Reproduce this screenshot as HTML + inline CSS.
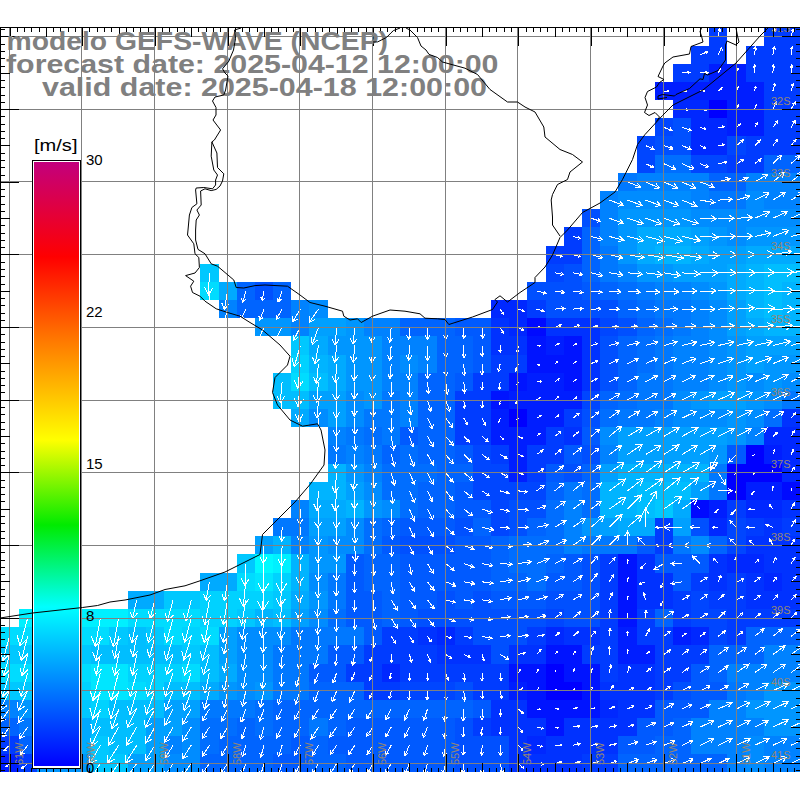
<!DOCTYPE html><html><head><meta charset="utf-8"><style>html,body{margin:0;padding:0;background:#fff;width:800px;height:800px;overflow:hidden}svg{display:block;position:absolute;left:0;top:0}.t{font-family:"Liberation Sans",sans-serif}</style></head><body>
<svg width="800" height="800" viewBox="0 0 800 800">
<rect width="800" height="800" fill="#fff"/>
<g shape-rendering="crispEdges">
<path fill="rgb(0,0,255)" d="M709 100h18v18h-18zM509 409h18v18h-18zM746 445h18v19h-18zM727 464h19v18h-19zM746 464h18v18h-18zM764 464h18v18h-18zM727 482h19v18h-19zM546 664h18v18h-18zM546 682h18v18h-18zM564 682h18v18h-18z"/>
<path fill="rgb(0,10,255)" d="M527 318h19v18h-19zM782 482h18v18h-18zM691 500h18v18h-18z"/>
<path fill="rgb(0,20,255)" d="M527 336h19v19h-19zM564 336h18v19h-18zM527 355h19v18h-19zM546 355h18v18h-18zM564 355h18v18h-18zM509 373h18v18h-18zM564 373h18v18h-18zM491 391h18v18h-18zM618 554h19v19h-19zM618 573h19v18h-19zM618 591h19v18h-19zM618 609h19v18h-19zM546 645h18v19h-18zM564 645h18v19h-18zM509 664h18v18h-18zM527 664h19v18h-19zM564 664h18v18h-18zM582 664h18v18h-18zM527 682h19v18h-19zM582 682h18v18h-18zM527 700h19v18h-19zM546 700h18v18h-18zM564 700h18v18h-18zM582 700h18v18h-18zM546 718h18v18h-18z"/>
<path fill="rgb(0,30,255)" d="M709 64h18v18h-18zM727 64h19v18h-19zM655 82h18v18h-18zM673 82h18v18h-18zM691 82h18v18h-18zM709 82h18v18h-18zM727 82h19v18h-19zM746 82h18v18h-18zM727 100h19v18h-19zM746 100h18v18h-18zM727 118h19v18h-19zM746 118h18v18h-18zM546 336h18v19h-18zM527 373h19v18h-19zM546 373h18v18h-18zM509 391h18v18h-18zM527 391h19v18h-19zM546 391h18v18h-18zM564 391h18v18h-18zM491 409h18v18h-18zM527 409h19v18h-19zM546 409h18v18h-18zM491 427h18v18h-18zM509 427h18v18h-18zM527 427h19v18h-19zM509 445h18v19h-18zM764 445h18v19h-18zM509 464h18v18h-18zM746 482h18v18h-18zM764 482h18v18h-18zM709 500h18v18h-18zM618 627h19v18h-19zM673 627h18v18h-18zM618 645h19v19h-19zM637 645h18v19h-18zM509 682h18v18h-18zM0 754h19v18h-19z"/>
<path fill="rgb(0,40,255)" d="M673 100h18v18h-18zM691 100h18v18h-18zM691 118h18v18h-18zM709 118h18v18h-18zM691 136h18v19h-18zM709 136h18v19h-18zM491 300h18v18h-18zM509 300h18v18h-18zM509 318h18v18h-18zM764 427h18v18h-18zM782 427h18v18h-18zM782 445h18v19h-18zM782 464h18v18h-18zM746 500h18v18h-18zM764 500h18v18h-18zM709 518h18v18h-18zM727 554h19v19h-19zM746 554h18v19h-18zM764 573h18v18h-18zM437 627h18v18h-18zM546 627h18v18h-18zM691 627h18v18h-18zM382 664h18v18h-18zM600 700h18v18h-18zM527 736h19v18h-19z"/>
<path fill="rgb(0,50,255)" d="M491 318h18v18h-18zM546 318h18v18h-18zM564 318h18v18h-18zM582 318h18v18h-18zM491 336h18v19h-18zM509 336h18v19h-18zM582 336h18v19h-18zM582 355h18v18h-18zM582 373h18v18h-18zM782 409h18v18h-18zM564 427h18v18h-18zM782 500h18v18h-18zM764 518h18v18h-18zM746 536h18v18h-18zM764 536h18v18h-18zM782 536h18v18h-18zM637 554h18v19h-18zM709 554h18v19h-18zM764 554h18v19h-18zM782 554h18v19h-18zM637 573h18v18h-18zM655 573h18v18h-18zM709 573h18v18h-18zM746 573h18v18h-18zM782 573h18v18h-18zM637 591h18v18h-18zM655 591h18v18h-18zM746 591h18v18h-18zM764 591h18v18h-18zM782 591h18v18h-18zM418 627h19v18h-19zM564 627h18v18h-18zM582 627h18v18h-18zM437 645h18v19h-18zM455 645h18v19h-18zM473 645h18v19h-18zM509 645h18v19h-18zM527 645h19v19h-19zM618 664h19v18h-19zM637 664h18v18h-18zM600 682h18v18h-18zM618 682h19v18h-19zM637 682h18v18h-18zM491 700h18v18h-18zM509 700h18v18h-18zM618 700h19v18h-19zM637 700h18v18h-18zM491 718h18v18h-18zM509 718h18v18h-18zM527 718h19v18h-19zM564 718h18v18h-18zM582 718h18v18h-18zM600 718h18v18h-18zM618 718h19v18h-19zM509 736h18v18h-18zM546 736h18v18h-18zM564 736h18v18h-18zM582 736h18v18h-18zM600 736h18v18h-18zM509 754h18v18h-18zM527 754h19v18h-19zM546 754h18v18h-18zM564 754h18v18h-18z"/>
<path fill="rgb(0,60,255)" d="M709 27h18v19h-18zM764 27h18v19h-18zM782 27h18v19h-18zM691 46h18v18h-18zM709 46h18v18h-18zM746 46h18v18h-18zM764 46h18v18h-18zM782 46h18v18h-18zM673 64h18v18h-18zM691 64h18v18h-18zM746 64h18v18h-18zM764 64h18v18h-18zM782 64h18v18h-18zM764 82h18v18h-18zM782 82h18v18h-18zM764 100h18v18h-18zM782 100h18v18h-18zM764 118h18v18h-18zM782 118h18v18h-18zM746 136h18v19h-18zM764 136h18v19h-18zM782 136h18v19h-18zM727 155h19v18h-19zM746 155h18v18h-18zM564 227h18v19h-18zM546 246h18v18h-18zM564 246h18v18h-18zM527 300h19v18h-19zM491 355h18v18h-18zM509 355h18v18h-18zM473 373h18v18h-18zM491 373h18v18h-18zM455 391h18v18h-18zM473 391h18v18h-18zM455 409h18v18h-18zM473 409h18v18h-18zM564 409h18v18h-18zM455 427h18v18h-18zM473 427h18v18h-18zM546 427h18v18h-18zM491 445h18v19h-18zM527 445h19v19h-19zM546 445h18v19h-18zM527 464h19v18h-19zM727 500h19v18h-19zM655 518h18v18h-18zM746 518h18v18h-18zM782 518h18v18h-18zM655 536h18v18h-18zM600 554h18v19h-18zM600 573h18v18h-18zM691 573h18v18h-18zM727 573h19v18h-19zM600 591h18v18h-18zM673 591h18v18h-18zM709 591h18v18h-18zM727 591h19v18h-19zM600 609h18v18h-18zM637 609h18v18h-18zM673 609h18v18h-18zM727 609h19v18h-19zM746 609h18v18h-18zM764 609h18v18h-18zM782 609h18v18h-18zM382 627h18v18h-18zM400 627h18v18h-18zM455 627h18v18h-18zM527 627h19v18h-19zM600 627h18v18h-18zM637 627h18v18h-18zM655 627h18v18h-18zM727 627h19v18h-19zM364 645h18v19h-18zM382 645h18v19h-18zM400 645h18v19h-18zM418 645h19v19h-19zM582 645h18v19h-18zM600 645h18v19h-18zM655 645h18v19h-18zM673 645h18v19h-18zM691 645h18v19h-18zM346 664h18v18h-18zM364 664h18v18h-18zM400 664h18v18h-18zM418 664h19v18h-19zM437 664h18v18h-18zM455 664h18v18h-18zM473 664h18v18h-18zM491 664h18v18h-18zM600 664h18v18h-18zM655 664h18v18h-18zM673 664h18v18h-18zM364 682h18v18h-18zM382 682h18v18h-18zM473 682h18v18h-18zM491 682h18v18h-18zM655 682h18v18h-18zM473 718h18v18h-18zM0 736h19v18h-19zM19 754h18v18h-18zM582 754h18v18h-18zM600 754h18v18h-18z"/>
<path fill="rgb(0,70,255)" d="M655 118h18v18h-18zM637 136h18v19h-18zM727 136h19v19h-19zM637 155h18v18h-18zM691 155h18v18h-18zM709 155h18v18h-18zM546 264h18v18h-18zM600 318h18v18h-18zM582 391h18v18h-18zM473 445h18v19h-18zM473 464h18v18h-18zM491 464h18v18h-18zM473 482h18v18h-18zM491 482h18v18h-18zM509 482h18v18h-18zM527 482h19v18h-19zM491 500h18v18h-18zM491 518h18v18h-18zM727 518h19v18h-19zM727 536h19v18h-19zM691 591h18v18h-18zM546 609h18v18h-18zM691 609h18v18h-18zM709 609h18v18h-18zM709 627h18v18h-18zM400 682h18v18h-18zM418 682h19v18h-19zM437 682h18v18h-18z"/>
<path fill="rgb(0,80,255)" d="M673 118h18v18h-18zM655 136h18v19h-18zM673 136h18v19h-18zM582 209h18v18h-18zM564 264h18v18h-18zM255 282h18v18h-18zM527 282h19v18h-19zM546 282h18v18h-18zM564 282h18v18h-18zM546 300h18v18h-18zM564 300h18v18h-18zM582 300h18v18h-18zM600 300h18v18h-18zM618 318h19v18h-19zM600 336h18v19h-18zM600 355h18v18h-18zM600 373h18v18h-18zM582 409h18v18h-18zM582 445h18v19h-18zM564 464h18v18h-18zM509 500h18v18h-18zM527 500h19v18h-19zM455 518h18v18h-18zM509 518h18v18h-18zM691 518h18v18h-18zM400 536h18v18h-18zM418 536h19v18h-19zM437 536h18v18h-18zM582 554h18v19h-18zM582 573h18v18h-18zM437 591h18v18h-18zM473 591h18v18h-18zM546 591h18v18h-18zM564 591h18v18h-18zM582 591h18v18h-18zM418 609h19v18h-19zM437 609h18v18h-18zM455 609h18v18h-18zM473 609h18v18h-18zM491 609h18v18h-18zM509 609h18v18h-18zM527 609h19v18h-19zM564 609h18v18h-18zM582 609h18v18h-18zM473 627h18v18h-18zM491 627h18v18h-18zM509 627h18v18h-18zM491 645h18v19h-18zM455 682h18v18h-18zM673 682h18v18h-18zM455 718h18v18h-18zM455 736h18v18h-18zM473 736h18v18h-18zM491 736h18v18h-18zM455 754h18v18h-18zM473 754h18v18h-18zM491 754h18v18h-18z"/>
<path fill="rgb(0,90,255)" d="M582 282h18v18h-18zM455 318h18v18h-18zM473 318h18v18h-18zM473 336h18v19h-18zM473 355h18v18h-18zM455 373h18v18h-18zM400 427h18v18h-18zM582 427h18v18h-18zM455 445h18v19h-18zM564 445h18v19h-18zM727 445h19v19h-19zM546 464h18v18h-18zM455 482h18v18h-18zM455 500h18v18h-18zM473 500h18v18h-18zM400 518h18v18h-18zM418 518h19v18h-19zM437 518h18v18h-18zM382 536h18v18h-18zM455 536h18v18h-18zM473 536h18v18h-18zM637 536h18v18h-18zM346 554h18v19h-18zM400 554h18v19h-18zM418 554h19v19h-19zM437 554h18v19h-18zM455 554h18v19h-18zM473 554h18v19h-18zM564 554h18v19h-18zM655 554h18v19h-18zM673 554h18v19h-18zM691 554h18v19h-18zM346 573h18v18h-18zM400 573h18v18h-18zM418 573h19v18h-19zM437 573h18v18h-18zM455 573h18v18h-18zM473 573h18v18h-18zM546 573h18v18h-18zM564 573h18v18h-18zM673 573h18v18h-18zM346 591h18v18h-18zM364 591h18v18h-18zM400 591h18v18h-18zM418 591h19v18h-19zM455 591h18v18h-18zM491 591h18v18h-18zM509 591h18v18h-18zM527 591h19v18h-19zM346 609h18v18h-18zM364 609h18v18h-18zM400 609h18v18h-18zM364 627h18v18h-18zM328 645h18v19h-18zM346 645h18v19h-18zM309 664h19v18h-19zM328 664h18v18h-18zM691 664h18v18h-18zM691 682h18v18h-18zM709 682h18v18h-18zM473 700h18v18h-18zM655 700h18v18h-18zM673 700h18v18h-18zM691 700h18v18h-18zM346 718h18v18h-18zM364 718h18v18h-18zM382 718h18v18h-18zM400 718h18v18h-18zM418 718h19v18h-19zM437 718h18v18h-18zM637 718h18v18h-18zM655 718h18v18h-18zM291 736h18v18h-18zM328 736h18v18h-18zM346 736h18v18h-18zM364 736h18v18h-18zM382 736h18v18h-18zM400 736h18v18h-18zM418 736h19v18h-19zM437 736h18v18h-18zM618 736h19v18h-19zM637 736h18v18h-18zM273 754h18v18h-18zM291 754h18v18h-18zM346 754h18v18h-18zM364 754h18v18h-18zM382 754h18v18h-18zM400 754h18v18h-18zM418 754h19v18h-19zM437 754h18v18h-18z"/>
<path fill="rgb(0,100,255)" d="M764 155h18v18h-18zM782 155h18v18h-18zM709 173h18v18h-18zM727 173h19v18h-19zM582 227h18v19h-18zM582 246h18v18h-18zM582 264h18v18h-18zM237 282h18v18h-18zM273 282h18v18h-18zM600 282h18v18h-18zM237 300h18v18h-18zM255 300h18v18h-18zM273 300h18v18h-18zM618 300h19v18h-19zM400 318h18v18h-18zM418 318h19v18h-19zM437 318h18v18h-18zM637 318h18v18h-18zM437 336h18v19h-18zM455 336h18v19h-18zM618 336h19v19h-19zM437 355h18v18h-18zM455 355h18v18h-18zM618 355h19v18h-19zM418 373h19v18h-19zM437 373h18v18h-18zM618 373h19v18h-19zM418 391h19v18h-19zM437 391h18v18h-18zM600 391h18v18h-18zM418 409h19v18h-19zM437 409h18v18h-18zM418 427h19v18h-19zM437 427h18v18h-18zM382 445h18v19h-18zM418 445h19v19h-19zM437 445h18v19h-18zM437 464h18v18h-18zM455 464h18v18h-18zM582 464h18v18h-18zM418 482h19v18h-19zM437 482h18v18h-18zM546 482h18v18h-18zM418 500h19v18h-19zM437 500h18v18h-18zM382 518h18v18h-18zM473 518h18v18h-18zM527 518h19v18h-19zM491 536h18v18h-18zM709 536h18v18h-18zM364 554h18v19h-18zM382 554h18v19h-18zM491 554h18v19h-18zM546 554h18v19h-18zM364 573h18v18h-18zM382 573h18v18h-18zM491 573h18v18h-18zM509 573h18v18h-18zM382 591h18v18h-18zM382 609h18v18h-18zM655 609h18v18h-18zM746 627h18v18h-18zM764 627h18v18h-18zM782 627h18v18h-18zM709 645h18v19h-18zM727 645h19v19h-19zM746 645h18v19h-18zM709 664h18v18h-18zM309 682h19v18h-19zM328 682h18v18h-18zM346 682h18v18h-18zM273 700h18v18h-18zM291 700h18v18h-18zM309 700h19v18h-19zM328 700h18v18h-18zM346 700h18v18h-18zM364 700h18v18h-18zM382 700h18v18h-18zM400 700h18v18h-18zM418 700h19v18h-19zM437 700h18v18h-18zM455 700h18v18h-18zM0 718h19v18h-19zM237 718h18v18h-18zM273 718h18v18h-18zM291 718h18v18h-18zM328 718h18v18h-18zM673 718h18v18h-18zM19 736h18v18h-18zM219 736h18v18h-18zM237 736h18v18h-18zM255 736h18v18h-18zM273 736h18v18h-18zM309 736h19v18h-19zM655 736h18v18h-18zM673 736h18v18h-18zM200 754h19v18h-19zM219 754h18v18h-18zM237 754h18v18h-18zM255 754h18v18h-18zM309 754h19v18h-19zM328 754h18v18h-18zM618 754h19v18h-19zM637 754h18v18h-18zM655 754h18v18h-18zM673 754h18v18h-18zM691 754h18v18h-18zM709 754h18v18h-18z"/>
<path fill="rgb(0,110,255)" d="M655 155h18v18h-18zM673 155h18v18h-18zM618 282h19v18h-19zM637 300h18v18h-18zM655 318h18v18h-18zM637 336h18v19h-18zM637 355h18v18h-18zM618 391h19v18h-19zM600 409h18v18h-18zM764 409h18v18h-18zM364 427h18v18h-18zM400 445h18v19h-18zM382 464h18v18h-18zM400 464h18v18h-18zM418 464h19v18h-19zM382 482h18v18h-18zM400 482h18v18h-18zM582 482h18v18h-18zM400 500h18v18h-18zM546 500h18v18h-18zM582 500h18v18h-18zM364 518h18v18h-18zM546 518h18v18h-18zM364 536h18v18h-18zM509 536h18v18h-18zM527 536h19v18h-19zM546 536h18v18h-18zM509 554h18v19h-18zM527 554h19v19h-19zM527 573h19v18h-19zM328 609h18v18h-18zM255 700h18v18h-18zM200 718h19v18h-19zM219 718h18v18h-18zM255 718h18v18h-18zM200 736h19v18h-19z"/>
<path fill="rgb(0,120,255)" d="M618 173h19v18h-19zM709 191h18v18h-18zM727 191h19v18h-19zM600 246h18v18h-18zM600 264h18v18h-18zM637 282h18v18h-18zM655 300h18v18h-18zM673 300h18v18h-18zM673 318h18v18h-18zM655 336h18v19h-18zM655 355h18v18h-18zM637 373h18v18h-18zM655 373h18v18h-18zM382 391h18v18h-18zM637 391h18v18h-18zM655 391h18v18h-18zM782 391h18v18h-18zM364 409h18v18h-18zM382 409h18v18h-18zM618 409h19v18h-19zM637 409h18v18h-18zM346 427h18v18h-18zM382 427h18v18h-18zM328 445h18v19h-18zM364 445h18v19h-18zM709 464h18v18h-18zM564 482h18v18h-18zM709 482h18v18h-18zM273 518h18v18h-18zM291 518h18v18h-18zM582 536h18v18h-18zM600 536h18v18h-18zM618 536h19v18h-19zM673 536h18v18h-18zM328 573h18v18h-18zM328 591h18v18h-18zM291 627h18v18h-18zM309 627h19v18h-19zM328 627h18v18h-18zM346 627h18v18h-18zM273 645h18v19h-18zM291 645h18v19h-18zM309 645h19v19h-19zM273 664h18v18h-18zM291 664h18v18h-18zM273 682h18v18h-18zM291 682h18v18h-18zM727 682h19v18h-19zM200 700h19v18h-19zM219 700h18v18h-18zM237 700h18v18h-18zM19 718h18v18h-18zM309 718h19v18h-19z"/>
<path fill="rgb(0,130,255)" d="M637 173h18v18h-18zM655 173h18v18h-18zM673 173h18v18h-18zM691 173h18v18h-18zM746 173h18v18h-18zM764 173h18v18h-18zM782 173h18v18h-18zM600 191h18v18h-18zM691 191h18v18h-18zM764 191h18v18h-18zM782 191h18v18h-18zM600 209h18v18h-18zM600 227h18v19h-18zM618 264h19v18h-19zM655 282h18v18h-18zM673 282h18v18h-18zM219 300h18v18h-18zM291 300h18v18h-18zM691 300h18v18h-18zM291 318h18v18h-18zM364 318h18v18h-18zM382 318h18v18h-18zM691 318h18v18h-18zM382 336h18v19h-18zM400 336h18v19h-18zM418 336h19v19h-19zM673 336h18v19h-18zM691 336h18v19h-18zM382 355h18v18h-18zM418 355h19v18h-19zM673 355h18v18h-18zM691 355h18v18h-18zM382 373h18v18h-18zM400 373h18v18h-18zM673 373h18v18h-18zM691 373h18v18h-18zM400 391h18v18h-18zM400 409h18v18h-18zM655 409h18v18h-18zM328 427h18v18h-18zM746 427h18v18h-18zM346 445h18v19h-18zM600 445h18v19h-18zM364 464h18v18h-18zM291 500h18v18h-18zM564 500h18v18h-18zM564 518h18v18h-18zM291 536h18v18h-18zM564 536h18v18h-18zM764 645h18v19h-18zM782 645h18v19h-18zM727 664h19v18h-19zM746 664h18v18h-18zM764 664h18v18h-18zM782 664h18v18h-18zM746 682h18v18h-18zM0 700h19v18h-19zM709 700h18v18h-18zM727 700h19v18h-19zM691 718h18v18h-18zM709 718h18v18h-18zM727 718h19v18h-19zM746 718h18v18h-18zM164 736h18v18h-18zM691 736h18v18h-18zM709 736h18v18h-18zM727 736h19v18h-19zM764 736h18v18h-18zM782 736h18v18h-18zM727 754h19v18h-19zM764 754h18v18h-18zM782 754h18v18h-18z"/>
<path fill="rgb(0,140,255)" d="M618 191h19v18h-19zM637 191h18v18h-18zM655 191h18v18h-18zM673 191h18v18h-18zM746 191h18v18h-18zM691 209h18v18h-18zM709 209h18v18h-18zM727 209h19v18h-19zM746 209h18v18h-18zM764 209h18v18h-18zM782 209h18v18h-18zM727 227h19v19h-19zM691 282h18v18h-18zM309 300h19v18h-19zM709 300h18v18h-18zM709 318h18v18h-18zM709 336h18v19h-18zM400 355h18v18h-18zM709 355h18v18h-18zM709 373h18v18h-18zM746 373h18v18h-18zM782 373h18v18h-18zM346 391h18v18h-18zM673 391h18v18h-18zM764 391h18v18h-18zM309 409h19v18h-19zM346 409h18v18h-18zM673 409h18v18h-18zM691 409h18v18h-18zM709 409h18v18h-18zM746 409h18v18h-18zM600 427h18v18h-18zM364 482h18v18h-18zM382 500h18v18h-18zM346 518h18v18h-18zM328 536h18v18h-18zM346 536h18v18h-18zM691 536h18v18h-18zM309 573h19v18h-19zM309 609h19v18h-19zM237 627h18v18h-18zM255 627h18v18h-18zM273 627h18v18h-18zM237 645h18v19h-18zM255 645h18v19h-18zM237 664h18v18h-18zM255 664h18v18h-18zM237 682h18v18h-18zM182 718h18v18h-18zM182 736h18v18h-18zM746 736h18v18h-18zM164 754h18v18h-18zM182 754h18v18h-18zM746 754h18v18h-18z"/>
<path fill="rgb(0,150,255)" d="M618 209h19v18h-19zM637 209h18v18h-18zM655 209h18v18h-18zM673 209h18v18h-18zM618 227h19v19h-19zM709 227h18v19h-18zM746 227h18v19h-18zM764 227h18v19h-18zM782 227h18v19h-18zM618 246h19v18h-19zM637 264h18v18h-18zM655 264h18v18h-18zM709 282h18v18h-18zM255 318h18v18h-18zM273 318h18v18h-18zM346 318h18v18h-18zM328 336h18v19h-18zM346 336h18v19h-18zM364 336h18v19h-18zM727 336h19v19h-19zM346 355h18v18h-18zM364 355h18v18h-18zM727 355h19v18h-19zM764 355h18v18h-18zM782 355h18v18h-18zM346 373h18v18h-18zM364 373h18v18h-18zM727 373h19v18h-19zM764 373h18v18h-18zM364 391h18v18h-18zM691 391h18v18h-18zM746 391h18v18h-18zM727 409h19v18h-19zM727 427h19v18h-19zM709 445h18v19h-18zM346 464h18v18h-18zM364 500h18v18h-18zM582 518h18v18h-18zM309 536h19v18h-19zM309 554h19v19h-19zM328 554h18v19h-18zM309 591h19v18h-19zM219 682h18v18h-18zM255 682h18v18h-18zM764 682h18v18h-18zM782 682h18v18h-18zM19 700h18v18h-18zM746 700h18v18h-18zM764 700h18v18h-18zM782 700h18v18h-18zM764 718h18v18h-18zM782 718h18v18h-18zM37 754h18v18h-18zM55 754h18v18h-18zM73 754h18v18h-18z"/>
<path fill="rgb(0,160,255)" d="M691 227h18v19h-18zM709 246h18v18h-18zM727 246h19v18h-19zM673 264h18v18h-18zM691 264h18v18h-18zM709 264h18v18h-18zM727 300h19v18h-19zM309 318h19v18h-19zM328 318h18v18h-18zM727 318h19v18h-19zM746 336h18v19h-18zM764 336h18v19h-18zM782 336h18v19h-18zM746 355h18v18h-18zM309 391h19v18h-19zM328 391h18v18h-18zM709 391h18v18h-18zM727 391h19v18h-19zM328 409h18v18h-18zM618 427h19v18h-19zM637 427h18v18h-18zM655 427h18v18h-18zM673 427h18v18h-18zM691 427h18v18h-18zM709 427h18v18h-18zM618 445h19v19h-19zM637 445h18v19h-18zM655 445h18v19h-18zM673 445h18v19h-18zM691 445h18v19h-18zM600 464h18v18h-18zM346 482h18v18h-18zM691 482h18v18h-18zM309 518h19v18h-19zM328 518h18v18h-18zM600 518h18v18h-18zM673 518h18v18h-18zM255 536h18v18h-18zM291 609h18v18h-18zM219 627h18v18h-18zM219 645h18v19h-18zM164 700h18v18h-18zM182 700h18v18h-18zM146 718h18v18h-18zM164 718h18v18h-18zM146 736h18v18h-18zM128 754h18v18h-18zM146 754h18v18h-18z"/>
<path fill="rgb(0,170,255)" d="M637 227h18v19h-18zM655 227h18v19h-18zM673 227h18v19h-18zM637 246h18v18h-18zM691 246h18v18h-18zM746 246h18v18h-18zM764 246h18v18h-18zM782 246h18v18h-18zM727 264h19v18h-19zM219 282h18v18h-18zM727 282h19v18h-19zM746 318h18v18h-18zM309 336h19v19h-19zM328 355h18v18h-18zM328 373h18v18h-18zM291 409h18v18h-18zM309 500h19v18h-19zM328 500h18v18h-18zM673 500h18v18h-18zM618 518h19v18h-19zM637 518h18v18h-18zM200 573h19v18h-19zM219 573h18v18h-18zM128 591h18v18h-18zM146 591h18v18h-18zM291 591h18v18h-18zM219 664h18v18h-18zM200 682h19v18h-19zM37 718h18v18h-18zM55 718h18v18h-18zM73 718h18v18h-18zM37 736h18v18h-18zM55 736h18v18h-18zM73 736h18v18h-18z"/>
<path fill="rgb(0,180,255)" d="M655 246h18v18h-18zM673 246h18v18h-18zM746 264h18v18h-18zM746 282h18v18h-18zM782 282h18v18h-18zM746 300h18v18h-18zM782 300h18v18h-18zM764 318h18v18h-18zM782 318h18v18h-18zM309 355h19v18h-19zM328 464h18v18h-18zM618 464h19v18h-19zM637 464h18v18h-18zM655 464h18v18h-18zM673 464h18v18h-18zM691 464h18v18h-18zM309 482h19v18h-19zM328 482h18v18h-18zM600 482h18v18h-18zM618 482h19v18h-19zM346 500h18v18h-18zM600 500h18v18h-18zM618 500h19v18h-19zM273 536h18v18h-18zM291 554h18v19h-18zM291 573h18v18h-18zM255 609h18v18h-18z"/>
<path fill="rgb(0,190,255)" d="M764 264h18v18h-18zM782 264h18v18h-18zM764 282h18v18h-18zM764 300h18v18h-18zM273 373h18v18h-18zM309 373h19v18h-19zM273 391h18v18h-18zM291 391h18v18h-18zM637 482h18v18h-18zM655 482h18v18h-18zM673 482h18v18h-18zM637 500h18v18h-18zM273 609h18v18h-18zM128 627h18v18h-18zM91 645h18v19h-18zM109 645h19v19h-19zM128 645h18v19h-18zM146 645h18v19h-18zM164 645h18v19h-18zM200 645h19v19h-19zM200 664h19v18h-19zM164 682h18v18h-18zM182 682h18v18h-18zM109 700h19v18h-19zM128 700h18v18h-18zM146 700h18v18h-18zM91 718h18v18h-18zM109 718h19v18h-19zM128 718h18v18h-18zM109 736h19v18h-19zM128 736h18v18h-18z"/>
<path fill="rgb(0,200,255)" d="M200 264h19v18h-19zM291 336h18v19h-18zM655 500h18v18h-18zM237 554h18v19h-18zM164 591h18v18h-18zM182 591h18v18h-18zM273 591h18v18h-18zM237 609h18v18h-18zM109 627h19v18h-19zM146 627h18v18h-18zM0 645h19v19h-19zM19 645h18v19h-18zM37 645h18v19h-18zM55 645h18v19h-18zM73 645h18v19h-18zM182 645h18v19h-18zM0 682h19v18h-19zM19 682h18v18h-18zM37 700h18v18h-18zM55 700h18v18h-18zM73 700h18v18h-18zM91 736h18v18h-18zM91 754h18v18h-18zM109 754h19v18h-19z"/>
<path fill="rgb(0,210,255)" d="M291 355h18v18h-18zM273 573h18v18h-18zM200 591h19v18h-19zM219 591h18v18h-18zM237 591h18v18h-18zM255 591h18v18h-18zM200 609h19v18h-19zM219 609h18v18h-18zM182 627h18v18h-18zM128 664h18v18h-18zM146 664h18v18h-18zM164 664h18v18h-18zM73 682h18v18h-18zM146 682h18v18h-18zM91 700h18v18h-18z"/>
<path fill="rgb(0,220,255)" d="M200 282h19v18h-19zM291 373h18v18h-18zM237 573h18v18h-18zM128 609h18v18h-18zM146 609h18v18h-18zM164 609h18v18h-18zM182 609h18v18h-18zM0 627h19v18h-19zM19 627h18v18h-18zM37 627h18v18h-18zM55 627h18v18h-18zM73 627h18v18h-18zM91 627h18v18h-18zM164 627h18v18h-18zM200 627h19v18h-19zM0 664h19v18h-19zM19 664h18v18h-18zM37 664h18v18h-18zM55 664h18v18h-18zM73 664h18v18h-18zM182 664h18v18h-18zM37 682h18v18h-18zM55 682h18v18h-18zM128 682h18v18h-18z"/>
<path fill="rgb(0,230,255)" d="M255 573h18v18h-18zM91 664h18v18h-18zM109 664h19v18h-19zM91 682h18v18h-18zM109 682h19v18h-19z"/>
<path fill="rgb(0,240,255)" d="M273 554h18v19h-18zM19 609h18v18h-18zM37 609h18v18h-18zM55 609h18v18h-18zM73 609h18v18h-18zM91 609h18v18h-18zM109 609h19v18h-19z"/>
<path fill="rgb(0,250,255)" d="M255 554h18v19h-18z"/>
</g>
<path fill="none" stroke="#fff" stroke-width="1" shape-rendering="crispEdges" d="M718.3 36.5L719.7 28.6M720.8 31.5L719.7 28.6L717.8 31.0M772.9 36.5L774.9 28.8M775.7 31.7L774.9 28.8L772.8 30.9M791.0 36.5L793.0 28.8M793.8 31.7L793.0 28.8L790.9 30.9M700.1 54.7L707.6 51.8M705.7 54.1L707.6 51.8L704.6 51.3M718.3 54.7L721.9 47.5M722.1 50.6L721.9 47.5L719.4 49.2M754.7 54.7L755.4 46.7M756.7 49.5L755.4 46.7L753.6 49.2M772.9 54.7L774.4 46.8M775.4 49.7L774.4 46.8L772.4 49.1M791.0 54.7L792.1 46.7M793.2 49.5L792.1 46.7L790.2 49.2M682.0 72.8L690.0 72.6M687.4 74.2L690.0 72.6L687.3 71.2M700.1 72.8L708.1 72.8M705.5 74.4L708.1 72.8L705.5 71.3M718.3 72.8L720.8 68.5M720.8 70.4L720.8 68.5L719.2 69.5M736.5 72.8L738.0 68.1M738.4 69.9L738.0 68.1L736.6 69.4M754.7 72.8L754.7 64.8M756.2 67.5L754.7 64.8L753.2 67.5M772.9 72.8L773.4 64.9M774.8 67.6L773.4 64.9L771.7 67.4M791.0 72.8L791.7 64.9M793.0 67.6L791.7 64.9L790.0 67.4M663.8 91.0L668.8 91.1M667.1 92.0L668.8 91.1L667.2 90.1M682.0 91.0L687.0 91.0M685.3 92.0L687.0 91.0L685.3 90.1M700.1 91.0L705.1 90.9M703.5 91.9L705.1 90.9L703.5 90.0M718.3 91.0L722.2 87.8M721.5 89.6L722.2 87.8L720.3 88.1M736.5 91.0L738.6 86.5M738.8 88.4L738.6 86.5L737.0 87.6M754.7 91.0L755.7 86.1M756.3 87.9L755.7 86.1L754.4 87.5M772.9 91.0L774.9 83.3M775.7 86.2L774.9 83.3L772.8 85.4M791.0 91.0L793.4 83.4M794.1 86.4L793.4 83.4L791.2 85.4M682.0 109.2L687.9 109.8M685.9 110.8L687.9 109.8L686.1 108.5M700.1 109.2L706.1 110.2M703.9 111.0L706.1 110.2L704.3 108.8M718.3 109.2L720.3 109.2M719.7 109.6L720.3 109.2L719.7 108.8M736.5 109.2L738.8 104.7M738.9 106.6L738.8 104.7L737.2 105.8M754.7 109.2L756.4 104.5M756.7 106.4L756.4 104.5L754.9 105.7M772.9 109.2L776.3 102.0M776.5 105.0L776.3 102.0L773.8 103.7M791.0 109.2L795.0 102.3M795.0 105.3L795.0 102.3L792.4 103.8M663.8 127.4L672.3 130.5M668.9 131.0L672.3 130.5L670.1 127.8M682.0 127.4L691.5 130.4M687.8 131.2L691.5 130.4L688.9 127.6M700.1 127.4L705.9 129.0M703.7 129.5L705.9 129.0L704.3 127.3M718.3 127.4L724.3 126.8M722.4 128.1L724.3 126.8L722.2 125.8M736.5 127.4L740.2 124.0M739.6 125.8L740.2 124.0L738.3 124.4M754.7 127.4L757.1 123.0M757.2 124.9L757.1 123.0L755.5 124.0M772.9 127.4L777.5 120.9M777.2 123.9L777.5 120.9L774.7 122.1M791.0 127.4L795.3 120.6M795.2 123.6L795.3 120.6L792.6 122.0M645.6 145.6L653.9 149.1M650.5 149.5L653.9 149.1L651.8 146.4M663.8 145.6L673.2 149.0M669.4 149.7L673.2 149.0L670.7 146.1M682.0 145.6L691.2 149.3M687.5 149.9L691.2 149.3L688.9 146.3M700.1 145.6L705.6 148.1M703.3 148.3L705.6 148.1L704.3 146.2M718.3 145.6L724.3 144.7M722.5 146.1L724.3 144.7L722.2 143.9M736.5 145.6L743.4 139.8M742.2 143.0L743.4 139.8L740.0 140.4M754.7 145.6L760.4 139.9M759.6 142.9L760.4 139.9L757.4 140.7M772.9 145.6L778.0 139.4M777.5 142.4L778.0 139.4L775.1 140.5M791.0 145.6L796.2 139.4M795.6 142.4L796.2 139.4L793.3 140.5M645.6 163.7L653.8 167.5M650.4 167.8L653.8 167.5L651.8 164.7M663.8 163.7L675.7 169.0M670.8 169.5L675.7 169.0L672.8 165.0M682.0 163.7L693.9 168.9M689.0 169.5L693.9 168.9L691.0 164.9M700.1 163.7L708.5 167.0M705.2 167.5L708.5 167.0L706.4 164.3M718.3 163.7L727.2 162.0M724.6 164.3L727.2 162.0L723.9 160.9M736.5 163.7L743.5 159.8M741.9 162.4L743.5 159.8L740.4 159.8M754.7 163.7L761.1 158.9M759.9 161.7L761.1 158.9L758.1 159.3M772.9 163.7L781.4 155.4M780.2 159.7L781.4 155.4L777.0 156.5M791.0 163.7L799.6 155.4M798.4 159.8L799.6 155.4L795.2 156.5M627.5 181.9L640.4 187.1M635.2 187.9L640.4 187.1L637.2 182.9M645.6 181.9L659.3 188.0M653.6 188.6L659.3 188.0L656.0 183.4M663.8 181.9L677.5 188.0M671.8 188.6L677.5 188.0L674.2 183.4M682.0 181.9L695.6 188.2M689.9 188.7L695.6 188.2L692.3 183.6M700.1 181.9L714.2 187.2M708.6 188.1L714.2 187.2L710.6 182.8M718.3 181.9L729.9 178.6M726.7 181.9L729.9 178.6L725.4 177.5M736.5 181.9L747.8 177.8M744.8 181.3L747.8 177.8L743.3 177.0M754.7 181.9L767.7 174.4M764.8 179.3L767.7 174.4L762.0 174.4M772.9 181.9L784.3 172.3M782.4 177.6L784.3 172.3L778.7 173.2M791.0 181.9L802.6 172.4M800.6 177.7L802.6 172.4L797.0 173.3M609.3 200.1L623.4 205.2M617.8 206.2L623.4 205.2L619.7 200.8M627.5 200.1L642.5 205.5M636.5 206.6L642.5 205.5L638.6 200.9M645.6 200.1L660.7 205.6M654.7 206.6L660.7 205.6L656.8 200.9M663.8 200.1L678.8 205.7M672.8 206.7L678.8 205.7L674.9 201.0M682.0 200.1L696.8 206.2M690.7 207.0L696.8 206.2L693.1 201.4M700.1 200.1L714.9 202.6M709.6 204.6L714.9 202.6L710.6 199.0M718.3 200.1L732.3 199.2M727.9 202.2L732.3 199.2L727.5 196.9M736.5 200.1L749.9 196.1M746.3 199.9L749.9 196.1L744.7 194.8M754.7 200.1L769.0 193.0M765.6 198.0L769.0 193.0L762.9 192.6M772.9 200.1L785.6 192.1M782.9 197.2L785.6 192.1L779.9 192.3M791.0 200.1L803.8 192.2M801.1 197.2L803.8 192.2L798.1 192.4M591.1 218.2L600.6 221.4M596.9 222.2L600.6 221.4L598.1 218.6M609.3 218.2L623.4 223.3M617.8 224.3L623.4 223.3L619.7 218.9M627.5 218.2L643.5 223.7M637.2 225.0L643.5 223.7L639.3 218.9M645.6 218.2L661.7 223.9M655.3 225.1L661.7 223.9L657.5 219.0M663.8 218.2L679.8 224.1M673.4 225.2L679.8 224.1L675.6 219.1M682.0 218.2L698.1 223.6M691.8 224.9L698.1 223.6L693.8 218.8M700.1 218.2L716.1 218.7M710.8 221.6L716.1 218.7L711.0 215.5M718.3 218.2L734.3 218.2M729.1 221.3L734.3 218.2L729.1 215.2M736.5 218.2L752.5 217.5M747.4 220.8L752.5 217.5L747.1 214.7M754.7 218.2L769.4 212.0M765.7 216.9L769.4 212.0L763.4 211.3M772.9 218.2L787.4 211.5M783.9 216.5L787.4 211.5L781.3 211.0M791.0 218.2L805.6 211.6M802.1 216.6L805.6 211.6L799.5 211.0M572.9 236.4L580.7 238.5M577.7 239.3L580.7 238.5L578.5 236.3M591.1 236.4L602.7 239.5M598.3 240.7L602.7 239.5L599.5 236.3M609.3 236.4L623.7 240.4M618.2 241.8L623.7 240.4L619.7 236.3M627.5 236.4L643.9 240.7M637.7 242.4L643.9 240.7L639.3 236.2M645.6 236.4L664.0 241.2M657.1 243.1L664.0 241.2L658.9 236.1M663.8 236.4L682.2 241.3M675.2 243.2L682.2 241.3L677.0 236.2M682.0 236.4L700.5 240.7M693.6 242.8L700.5 240.7L695.2 235.8M700.1 236.4L718.1 237.3M712.1 240.4L718.1 237.3L712.4 233.6M718.3 236.4L735.3 236.4M729.7 239.6L735.3 236.4L729.7 233.2M736.5 236.4L752.5 236.1M747.3 239.3L752.5 236.1L747.2 233.2M754.7 236.4L771.3 233.0M766.5 237.3L771.3 233.0L765.2 230.9M772.9 236.4L788.7 230.3M784.7 235.3L788.7 230.3L782.3 229.3M791.0 236.4L807.6 232.6M802.9 237.0L807.6 232.6L801.4 230.7M554.8 254.6L562.5 256.4M559.6 257.3L562.5 256.4L560.3 254.3M572.9 254.6L580.7 256.6M577.7 257.4L580.7 256.6L578.5 254.5M591.1 254.6L602.7 257.7M598.3 258.9L602.7 257.7L599.5 254.5M609.3 254.6L622.8 258.1M617.7 259.5L622.8 258.1L619.0 254.4M627.5 254.6L644.2 257.6M638.1 259.8L644.2 257.6L639.2 253.5M645.6 254.6L664.3 257.9M657.5 260.4L664.3 257.9L658.8 253.3M663.8 254.6L683.5 258.1M676.4 260.7L683.5 258.1L677.7 253.2M682.0 254.6L701.7 257.9M694.6 260.6L701.7 257.9L695.8 253.1M700.1 254.6L719.1 255.6M712.7 258.9L719.1 255.6L713.1 251.7M718.3 254.6L736.3 254.6M730.4 258.0L736.3 254.6L730.4 251.2M736.5 254.6L754.5 254.6M748.6 258.0L754.5 254.6L748.6 251.2M754.7 254.6L773.7 254.1M767.5 257.9L773.7 254.1L767.3 250.6M772.9 254.6L791.6 251.4M786.0 256.0L791.6 251.4L784.8 248.9M791.0 254.6L809.7 251.3M804.2 255.9L809.7 251.3L803.0 248.8M209.4 272.8L208.5 294.8M204.6 287.3L208.5 294.8L213.0 287.7M554.8 272.8L563.6 274.4M560.4 275.5L563.6 274.4L561.0 272.2M572.9 272.8L582.7 274.8M579.1 276.0L582.7 274.8L579.9 272.3M591.1 272.8L602.7 275.7M598.3 277.0L602.7 275.7L599.5 272.5M609.3 272.8L623.1 275.1M618.1 277.0L623.1 275.1L619.0 271.7M627.5 272.8L642.4 274.2M637.2 276.6L642.4 274.2L637.7 270.9M645.6 272.8L662.5 274.9M656.5 277.4L662.5 274.9L657.3 271.0M663.8 272.8L680.6 275.5M674.5 277.8L680.6 275.5L675.6 271.4M682.0 272.8L699.9 274.3M693.7 277.2L699.9 274.3L694.3 270.4M700.1 272.8L718.1 272.9M712.2 276.3L718.1 272.9L712.2 269.4M718.3 272.8L736.3 272.7M730.4 276.1L736.3 272.7L730.4 269.3M736.5 272.8L755.5 272.7M749.3 276.3L755.5 272.7L749.2 269.1M754.7 272.8L774.7 272.3M768.2 276.2L774.7 272.3L768.0 268.6M772.9 272.8L793.8 271.9M787.1 276.2L793.8 271.9L786.8 268.2M791.0 272.8L811.8 269.8M805.5 274.7L811.8 269.8L804.4 266.8M209.4 291.0L209.4 316.0M204.7 307.7L209.4 316.0L214.2 307.7M227.6 291.0L224.3 309.7M221.8 302.9L224.3 309.7L228.9 304.1M245.8 291.0L242.7 302.5M241.5 298.1L242.7 302.5L245.9 299.3M264.0 291.0L262.2 300.8M260.9 297.2L262.2 300.8L264.7 297.9M282.1 291.0L278.0 302.2M277.2 297.7L278.0 302.2L281.5 299.3M536.6 291.0L546.3 293.1M542.7 294.3L546.3 293.1L543.5 290.6M554.8 291.0L564.6 292.7M561.0 294.0L564.6 292.7L561.7 290.2M572.9 291.0L582.8 292.5M579.2 293.9L582.8 292.5L579.9 290.1M591.1 291.0L602.0 292.3M598.2 293.9L602.0 292.3L598.7 289.8M609.3 291.0L621.2 292.0M617.1 293.9L621.2 292.0L617.5 289.4M627.5 291.0L640.4 292.1M635.9 294.2L640.4 292.1L636.4 289.2M645.6 291.0L659.6 292.1M654.8 294.4L659.6 292.1L655.2 289.1M663.8 291.0L678.8 291.9M673.7 294.4L678.8 291.9L674.0 288.7M682.0 291.0L697.0 291.0M692.0 293.9L697.0 291.0L692.1 288.2M700.1 291.0L716.1 291.0M710.9 294.0L716.1 291.0L710.9 287.9M718.3 291.0L735.3 290.9M729.7 294.1L735.3 290.9L729.7 287.7M736.5 291.0L755.5 290.2M749.4 294.1L755.5 290.2L749.1 286.9M754.7 291.0L774.7 290.8M768.1 294.6L774.7 290.8L768.1 287.0M772.9 291.0L793.9 291.0M786.9 294.9L793.9 291.0L786.9 287.0M791.0 291.0L811.0 290.7M804.5 294.6L811.0 290.7L804.4 287.0M227.6 309.1L223.6 323.6M222.2 318.1L223.6 323.6L227.7 319.6M245.8 309.1L240.7 320.0M240.3 315.5L240.7 320.0L244.4 317.4M264.0 309.1L259.6 320.3M258.9 315.8L259.6 320.3L263.1 317.5M282.1 309.1L276.1 319.5M276.1 315.0L276.1 319.5L280.1 317.2M300.3 309.1L292.5 321.9M292.6 316.2L292.5 321.9L297.5 319.2M318.5 309.1L309.3 322.2M309.8 316.2L309.3 322.2L314.8 319.7M500.2 309.1L503.2 314.3M501.3 313.2L503.2 314.3L503.2 312.0M518.4 309.1L524.0 311.2M521.8 311.6L524.0 311.2L522.6 309.4M536.6 309.1L544.3 311.1M541.4 311.9L544.3 311.1L542.2 309.0M554.8 309.1L564.7 308.5M561.6 310.6L564.7 308.5L561.3 306.8M572.9 309.1L582.9 308.5M579.7 310.6L582.9 308.5L579.5 306.8M591.1 309.1L601.1 308.9M597.9 310.8L601.1 308.9L597.8 307.0M609.3 309.1L619.3 309.1M616.0 311.0L619.3 309.1L616.0 307.2M627.5 309.1L639.4 309.1M635.5 311.4L639.4 309.1L635.5 306.8M645.6 309.1L658.6 309.0M654.4 311.5L658.6 309.0L654.3 306.6M663.8 309.1L677.8 308.9M673.2 311.6L677.8 308.9L673.1 306.3M682.0 309.1L696.0 309.0M691.4 311.7L696.0 309.0L691.3 306.4M700.1 309.1L715.1 309.0M710.2 311.9L715.1 309.0L710.2 306.2M718.3 309.1L734.3 308.3M729.2 311.6L734.3 308.3L728.9 305.5M736.5 309.1L754.4 307.6M748.8 311.5L754.4 307.6L748.2 304.7M754.7 309.1L774.6 308.0M768.3 312.2L774.6 308.0L767.9 304.6M772.9 309.1L793.8 308.9M787.0 313.0L793.8 308.9L786.9 305.0M791.0 309.1L811.0 308.6M804.5 312.6L811.0 308.6L804.3 305.0M264.0 327.3L256.9 342.8M256.3 336.3L256.9 342.8L262.1 339.0M282.1 327.3L274.0 342.2M273.8 335.8L274.0 342.2L279.5 338.9M300.3 327.3L293.3 340.5M293.1 334.9L293.3 340.5L298.1 337.5M318.5 327.3L312.3 344.2M311.1 337.5L312.3 344.2L317.6 339.8M336.7 327.3L335.1 345.2M332.2 339.0L335.1 345.2L339.0 339.6M354.8 327.3L353.1 344.2M350.4 338.3L353.1 344.2L356.8 339.0M373.0 327.3L371.6 342.2M369.2 337.1L371.6 342.2L374.9 337.6M391.2 327.3L389.9 342.2M387.5 337.1L389.9 342.2L393.2 337.6M409.4 327.3L408.9 339.3M406.8 335.3L408.9 339.3L411.3 335.4M427.5 327.3L427.5 339.3M425.3 335.4L427.5 339.3L429.8 335.3M445.7 327.3L445.8 339.3M443.5 335.4L445.8 339.3L448.0 335.3M463.9 327.3L463.9 338.3M461.8 334.7L463.9 338.3L466.0 334.7M482.1 327.3L482.9 338.3M480.5 334.8L482.9 338.3L484.7 334.5M500.2 327.3L503.7 333.4M501.4 332.0L503.7 333.4L503.7 330.7M518.4 327.3L523.6 330.3M521.3 330.3L523.6 330.3L522.5 328.3M536.6 327.3L539.5 326.9M538.6 327.6L539.5 326.9L538.5 326.4M554.8 327.3L561.3 324.9M559.6 326.9L561.3 324.9L558.7 324.4M572.9 327.3L579.6 325.1M577.8 327.1L579.6 325.1L577.0 324.6M591.1 327.3L598.0 326.1M596.0 327.8L598.0 326.1L595.5 325.2M609.3 327.3L618.2 326.4M615.4 328.4L618.2 326.4L615.1 325.0M627.5 327.3L637.4 326.4M634.3 328.6L637.4 326.4L634.0 324.8M645.6 327.3L657.6 326.2M653.9 328.8L657.6 326.2L653.4 324.3M663.8 327.3L676.7 325.8M672.7 328.8L676.7 325.8L672.2 323.8M682.0 327.3L695.9 326.0M691.6 329.0L695.9 326.0L691.1 323.7M700.1 327.3L715.1 325.9M710.4 329.2L715.1 325.9L709.9 323.5M718.3 327.3L734.3 325.8M729.3 329.3L734.3 325.8L728.7 323.2M736.5 327.3L754.4 325.7M748.8 329.7L754.4 325.7L748.2 322.8M754.7 327.3L773.6 325.5M767.7 329.7L773.6 325.5L767.0 322.5M772.9 327.3L792.7 325.2M786.6 329.7L792.7 325.2L785.8 322.1M791.0 327.3L810.9 324.9M804.8 329.5L810.9 324.9L803.9 321.9M300.3 345.5L294.3 366.6M292.2 358.5L294.3 366.6L300.3 360.8M318.5 345.5L315.0 364.2M312.6 357.4L315.0 364.2L319.7 358.7M336.7 345.5L334.9 362.4M332.2 356.5L334.9 362.4L338.7 357.2M354.8 345.5L353.2 362.4M350.5 356.5L353.2 362.4L357.0 357.1M373.0 345.5L371.6 362.4M368.8 356.6L371.6 362.4L375.3 357.1M391.2 345.5L389.9 360.4M387.5 355.3L389.9 360.4L393.1 355.7M409.4 345.5L408.7 360.5M406.1 355.4L408.7 360.5L411.8 355.6M427.5 345.5L427.5 360.5M424.7 355.5L427.5 360.5L430.4 355.5M445.7 345.5L445.8 357.5M443.5 353.5L445.8 357.5L448.0 353.5M463.9 345.5L464.0 357.5M461.7 353.5L464.0 357.5L466.2 353.5M482.1 345.5L482.1 356.5M480.0 352.9L482.1 356.5L484.1 352.9M500.2 345.5L500.3 352.5M498.9 350.2L500.3 352.5L501.6 350.2M518.4 345.5L517.2 352.4M516.3 349.9L517.2 352.4L518.9 350.3M536.6 345.5L540.5 345.9M539.2 346.5L540.5 345.9L539.3 345.0M554.8 345.5L559.3 343.3M558.2 344.9L559.3 343.3L557.4 343.2M572.9 345.5L576.6 343.8M575.7 345.1L576.6 343.8L575.1 343.7M591.1 345.5L597.8 343.4M596.0 345.3L597.8 343.4L595.2 342.8M609.3 345.5L618.9 342.9M616.2 345.6L618.9 342.9L615.3 341.9M627.5 345.5L639.0 342.4M635.8 345.6L639.0 342.4L634.6 341.2M645.6 345.5L658.2 342.1M654.7 345.6L658.2 342.1L653.4 340.8M663.8 345.5L677.3 341.9M673.6 345.7L677.3 341.9L672.2 340.5M682.0 345.5L696.6 342.0M692.4 345.9L696.6 342.0L691.1 340.4M700.1 345.5L714.8 342.2M710.6 346.1L714.8 342.2L709.3 340.5M718.3 345.5L733.9 342.0M729.5 346.1L733.9 342.0L728.1 340.2M736.5 345.5L753.1 341.8M748.3 346.1L753.1 341.8L746.9 339.8M754.7 345.5L772.2 341.5M767.2 346.1L772.2 341.5L765.7 339.5M772.9 345.5L790.3 341.1M785.4 345.8L790.3 341.1L783.7 339.2M791.0 345.5L808.3 340.4M803.6 345.3L808.3 340.4L801.6 338.8M300.3 363.7L297.9 388.5M294.0 379.9L297.9 388.5L303.4 380.8M318.5 363.7L316.4 383.5M313.3 376.6L316.4 383.5L320.9 377.4M336.7 363.7L335.4 382.6M332.2 376.1L335.4 382.6L339.4 376.6M354.8 363.7L354.1 380.6M351.1 374.9L354.1 380.6L357.6 375.2M373.0 363.7L372.0 380.6M369.1 374.9L372.0 380.6L375.6 375.2M391.2 363.7L390.0 378.6M387.6 373.5L390.0 378.6L393.2 373.9M409.4 363.7L408.9 379.6M406.0 374.3L408.9 379.6L412.1 374.5M427.5 363.7L427.6 378.6M424.7 373.7L427.6 378.6L430.4 373.7M445.7 363.7L446.0 375.6M443.6 371.8L446.0 375.6L448.2 371.6M463.9 363.7L464.2 375.6M461.8 371.8L464.2 375.6L466.4 371.6M482.1 363.7L482.1 374.6M480.0 371.0L482.1 374.6L484.2 371.0M500.2 363.7L498.4 371.4M497.5 368.5L498.4 371.4L500.5 369.2M518.4 363.7L515.7 371.2M515.1 368.2L515.7 371.2L518.0 369.2M536.6 363.7L540.0 365.8M538.4 365.7L540.0 365.8L539.2 364.4M554.8 363.7L558.0 361.4M557.4 362.7L558.0 361.4L556.5 361.5M572.9 363.7L576.3 361.5M575.6 362.8L576.3 361.5L574.8 361.5M591.1 363.7L597.5 360.7M595.9 362.9L597.5 360.7L594.8 360.5M609.3 363.7L618.4 359.5M616.2 362.6L618.4 359.5L614.6 359.2M627.5 363.7L638.3 358.6M635.7 362.3L638.3 358.6L633.8 358.2M645.6 363.7L657.5 358.3M654.6 362.3L657.5 358.3L652.5 357.8M663.8 363.7L676.7 358.2M673.5 362.4L676.7 358.2L671.4 357.5M682.0 363.7L696.0 358.3M692.4 362.7L696.0 358.3L690.4 357.4M700.1 363.7L714.3 358.8M710.6 363.1L714.3 358.8L708.7 357.7M718.3 363.7L733.4 358.3M729.5 362.9L733.4 358.3L727.4 357.2M736.5 363.7L752.5 357.8M748.3 362.8L752.5 357.8L746.1 356.7M754.7 363.7L771.6 357.5M767.2 362.8L771.6 357.5L764.9 356.3M772.9 363.7L788.6 357.3M784.6 362.4L788.6 357.3L782.2 356.4M791.0 363.7L806.5 356.5M802.7 361.8L806.5 356.5L800.0 355.9M282.1 381.8L280.2 402.7M276.9 395.5L280.2 402.7L284.8 396.2M300.3 381.8L298.1 406.7M294.1 398.1L298.1 406.7L303.6 398.9M318.5 381.8L316.7 402.7M313.3 395.5L316.7 402.7L321.2 396.2M336.7 381.8L335.9 400.8M332.5 394.4L335.9 400.8L339.8 394.7M354.8 381.8L354.2 398.8M351.2 393.1L354.2 398.8L357.7 393.3M373.0 381.8L372.5 398.8M369.4 393.1L372.5 398.8L375.9 393.3M391.2 381.8L391.2 396.8M388.3 391.9L391.2 396.8L394.0 391.9M409.4 381.8L410.1 396.8M407.0 392.0L410.1 396.8L412.7 391.7M427.5 381.8L428.7 393.8M426.1 390.1L428.7 393.8L430.6 389.6M445.7 381.8L447.3 393.7M444.5 390.1L447.3 393.7L449.0 389.5M463.9 381.8L464.5 392.8M462.2 389.3L464.5 392.8L466.4 389.1M482.1 381.8L482.1 389.8M480.6 387.2L482.1 389.8L483.6 387.2M500.2 381.8L499.3 389.8M498.1 387.0L499.3 389.8L501.1 387.3M518.4 381.8L517.3 385.7M516.9 384.2L517.3 385.7L518.4 384.6M536.6 381.8L541.5 381.3M540.0 382.4L541.5 381.3L539.8 380.5M554.8 381.8L558.8 378.9M558.0 380.6L558.8 378.9L556.9 379.1M572.9 381.8L576.2 379.5M575.6 380.9L576.2 379.5L574.7 379.7M591.1 381.8L597.2 378.4M595.8 380.7L597.2 378.4L594.6 378.4M609.3 381.8L618.3 377.5M616.1 380.6L618.3 377.5L614.5 377.2M627.5 381.8L638.2 376.6M635.7 380.4L638.2 376.6L633.7 376.3M645.6 381.8L657.9 375.1M655.1 379.6L657.9 375.1L652.6 375.0M663.8 381.8L676.1 375.2M673.3 379.7L676.1 375.2L670.8 375.0M682.0 381.8L695.5 375.3M692.3 380.0L695.5 375.3L689.8 374.9M700.1 381.8L713.9 375.8M710.5 380.4L713.9 375.8L708.2 375.2M718.3 381.8L733.2 376.0M729.4 380.8L733.2 376.0L727.2 375.1M736.5 381.8L752.4 375.9M748.3 380.8L752.4 375.9L746.0 374.8M754.7 381.8L769.4 375.5M765.7 380.4L769.4 375.5L763.3 374.8M772.9 381.8L788.2 374.6M784.5 379.9L788.2 374.6L781.8 374.0M791.0 381.8L805.3 374.6M802.0 379.7L805.3 374.6L799.2 374.3M282.1 400.0L280.3 420.9M276.9 413.7L280.3 420.9L284.8 414.4M300.3 400.0L298.5 420.9M295.1 413.7L298.5 420.9L303.1 414.4M318.5 400.0L317.1 417.9M314.1 411.8L317.1 417.9L320.9 412.3M336.7 400.0L336.0 418.0M332.8 411.9L336.0 418.0L339.6 412.2M354.8 400.0L354.3 416.0M351.5 410.6L354.3 416.0L357.5 410.8M373.0 400.0L373.0 417.0M369.7 411.4L373.0 417.0L376.2 411.4M391.2 400.0L391.4 414.0M388.7 409.4L391.4 414.0L394.0 409.3M409.4 400.0L410.8 414.9M407.5 410.3L410.8 414.9L413.2 409.7M427.5 400.0L431.0 411.5M427.7 408.4L431.0 411.5L432.1 407.0M445.7 400.0L449.8 411.3M446.3 408.3L449.8 411.3L450.6 406.8M463.9 400.0L464.3 408.0M462.7 405.4L464.3 408.0L465.7 405.3M482.1 400.0L482.1 408.0M480.5 405.4L482.1 408.0L483.6 405.4M500.2 400.0L499.8 404.0M499.2 402.6L499.8 404.0L500.7 402.7M518.4 400.0L515.0 403.7M515.4 401.8L515.0 403.7L516.8 403.1M536.6 400.0L540.6 397.1M539.8 398.8L540.6 397.1L538.7 397.3M554.8 400.0L558.6 396.8M557.9 398.6L558.6 396.8L556.7 397.1M572.9 400.0L576.8 396.9M576.1 398.6L576.8 396.9L574.9 397.2M591.1 400.0L598.5 394.9M597.0 398.0L598.5 394.9L595.1 395.2M609.3 400.0L619.6 393.9M617.4 397.9L619.6 393.9L615.0 393.9M627.5 400.0L638.7 393.5M636.2 397.8L638.7 393.5L633.8 393.5M645.6 400.0L657.7 393.0M655.1 397.6L657.7 393.0L652.4 393.0M663.8 400.0L676.0 393.1M673.3 397.6L676.0 393.1L670.6 393.0M682.0 400.0L696.3 392.9M692.9 397.9L696.3 392.9L690.2 392.5M700.1 400.0L715.5 392.8M711.8 398.1L715.5 392.8L709.1 392.2M718.3 400.0L734.6 392.3M730.7 397.9L734.6 392.3L727.8 391.8M736.5 400.0L752.7 392.2M748.9 397.9L752.7 392.2L745.9 391.7M754.7 400.0L770.0 392.7M766.4 398.0L770.0 392.7L763.6 392.2M772.9 400.0L787.4 393.2M783.9 398.2L787.4 393.2L781.3 392.7M791.0 400.0L803.4 393.5M800.6 398.0L803.4 393.5L798.1 393.3M300.3 418.2L298.9 437.1M295.8 430.6L298.9 437.1L303.0 431.2M318.5 418.2L317.6 434.2M314.9 428.7L317.6 434.2L320.9 429.1M336.7 418.2L336.3 436.2M333.0 430.2L336.3 436.2L339.9 430.3M354.8 418.2L355.0 434.2M351.9 429.0L355.0 434.2L358.0 428.9M373.0 418.2L373.2 432.2M370.5 427.6L373.2 432.2L375.8 427.5M391.2 418.2L391.2 432.2M388.5 427.6L391.2 432.2L393.8 427.6M409.4 418.2L412.1 432.9M408.4 428.6L412.1 432.9L414.0 427.5M427.5 418.2L432.9 428.9M429.1 426.4L432.9 428.9L433.1 424.4M445.7 418.2L453.0 427.7M448.8 425.9L453.0 427.7L452.4 423.2M463.9 418.2L467.9 425.1M465.2 423.6L467.9 425.1L467.9 422.1M482.1 418.2L485.4 425.4M482.9 423.7L485.4 425.4L485.7 422.4M500.2 418.2L498.3 422.8M498.0 420.9L498.3 422.8L499.8 421.6M518.4 418.2L516.9 419.5M517.1 418.7L516.9 419.5L517.6 419.3M536.6 418.2L540.9 415.7M540.0 417.3L540.9 415.7L539.0 415.7M554.8 418.2L558.6 415.0M558.0 416.8L558.6 415.0L556.8 415.3M572.9 418.2L579.2 413.2M578.1 416.0L579.2 413.2L576.2 413.6M591.1 418.2L598.8 411.8M597.5 415.4L598.8 411.8L595.1 412.5M609.3 418.2L619.7 410.4M617.7 414.9L619.7 410.4L614.8 411.0M627.5 418.2L639.5 411.0M636.9 415.6L639.5 411.0L634.2 411.1M645.6 418.2L657.7 411.2M655.1 415.8L657.7 411.2L652.4 411.2M663.8 418.2L676.8 410.7M673.9 415.6L676.8 410.7L671.1 410.7M682.0 418.2L696.4 411.2M693.0 416.3L696.4 411.2L690.3 410.8M700.1 418.2L714.7 411.4M711.2 416.4L714.7 411.4L708.6 410.9M718.3 418.2L732.8 411.3M729.3 416.3L732.8 411.3L726.7 410.8M736.5 418.2L751.8 410.7M748.2 416.1L751.8 410.7L745.3 410.3M754.7 418.2L769.2 411.4M765.7 416.4L769.2 411.4L763.1 410.9M772.9 418.2L783.8 411.2M781.5 415.6L783.8 411.2L778.9 411.4M791.0 418.2L795.5 412.8M795.0 415.4L795.5 412.8L793.0 413.7M336.7 436.4L336.2 451.3M333.5 446.3L336.2 451.3L339.2 446.5M354.8 436.4L355.2 450.3M352.4 445.8L355.2 450.3L357.8 445.7M373.0 436.4L374.0 449.3M371.2 445.2L374.0 449.3L376.1 444.9M391.2 436.4L393.7 450.1M390.2 446.1L393.7 450.1L395.5 445.1M409.4 436.4L413.1 446.7M409.9 444.0L413.1 446.7L413.8 442.6M427.5 436.4L433.4 446.8M429.5 444.5L433.4 446.8L433.5 442.2M445.7 436.4L453.4 445.5M449.1 444.0L453.4 445.5L452.6 441.1M463.9 436.4L469.4 442.1M466.5 441.3L469.4 442.1L468.7 439.1M482.1 436.4L488.2 441.5M485.2 441.0L488.2 441.5L487.1 438.6M500.2 436.4L504.0 439.6M502.1 439.3L504.0 439.6L503.4 437.8M518.4 436.4L522.7 438.8M520.8 438.8L522.7 438.8L521.8 437.2M536.6 436.4L540.4 433.1M539.8 434.9L540.4 433.1L538.5 433.5M554.8 436.4L561.0 431.3M559.9 434.2L561.0 431.3L558.0 431.8M572.9 436.4L578.3 431.9M577.4 434.4L578.3 431.9L575.7 432.3M591.1 436.4L599.5 429.3M598.1 433.2L599.5 429.3L595.4 430.0M609.3 436.4L621.7 426.3M619.5 432.0L621.7 426.3L615.7 427.2M627.5 436.4L642.9 427.1M639.6 433.1L642.9 427.1L636.0 427.2M645.6 436.4L661.2 427.4M657.8 433.3L661.2 427.4L654.4 427.4M663.8 436.4L679.3 427.2M675.9 433.2L679.3 427.2L672.5 427.3M682.0 436.4L697.8 427.8M694.2 433.6L697.8 427.8L691.0 427.6M700.1 436.4L716.4 428.5M712.5 434.2L716.4 428.5L709.5 428.0M718.3 436.4L734.5 428.5M730.7 434.2L734.5 428.5L727.7 428.0M736.5 436.4L751.5 428.4M748.1 433.8L751.5 428.4L745.0 428.1M754.7 436.4L767.1 428.0M764.6 433.1L767.1 428.0L761.4 428.4M772.9 436.4L777.4 432.5M776.7 434.6L777.4 432.5L775.2 432.9M791.0 436.4L794.0 431.2M794.0 433.4L794.0 431.2L792.1 432.3M336.7 454.5L335.5 468.5M333.2 463.7L335.5 468.5L338.5 464.1M354.8 454.5L354.1 469.5M351.5 464.4L354.1 469.5L357.2 464.7M373.0 454.5L374.7 468.4M371.5 464.2L374.7 468.4L376.8 463.5M391.2 454.5L394.6 466.0M391.3 462.9L394.6 466.0L395.7 461.6M409.4 454.5L413.9 466.7M410.1 463.6L413.9 466.7L414.7 461.8M427.5 454.5L433.5 465.0M429.5 462.7L433.5 465.0L433.5 460.4M445.7 454.5L453.3 463.8M449.1 462.2L453.3 463.8L452.6 459.3M463.9 454.5L471.7 462.2M467.7 461.2L471.7 462.2L470.6 458.2M482.1 454.5L489.4 459.8M486.0 459.4L489.4 459.8L488.0 456.7M500.2 454.5L507.2 458.5M504.1 458.5L507.2 458.5L505.6 455.9M518.4 454.5L523.1 456.3M521.2 456.6L523.1 456.3L521.9 454.8M536.6 454.5L543.1 449.9M541.8 452.7L543.1 449.9L540.1 450.2M554.8 454.5L561.2 449.8M560.0 452.6L561.2 449.8L558.2 450.1M572.9 454.5L581.6 447.8M580.0 451.6L581.6 447.8L577.5 448.3M591.1 454.5L598.9 448.3M597.5 451.8L598.9 448.3L595.1 448.8M609.3 454.5L621.4 445.7M619.1 450.9L621.4 445.7L615.7 446.3M627.5 454.5L642.3 444.4M639.4 450.6L642.3 444.4L635.5 444.9M645.6 454.5L661.0 445.2M657.7 451.2L661.0 445.2L654.2 445.3M663.8 454.5L679.0 444.9M675.8 450.9L679.0 444.9L672.2 445.2M682.0 454.5L697.4 445.3M694.1 451.3L697.4 445.3L690.6 445.4M700.1 454.5L715.8 445.6M712.3 451.5L715.8 445.6L708.9 445.6M718.3 454.5L710.9 469.8M710.4 463.4L710.9 469.8L716.2 466.2M736.5 454.5L728.6 462.2M729.7 458.2L728.6 462.2L732.6 461.2M754.7 454.5L752.9 455.5M753.3 454.9L752.9 455.5L753.7 455.5M772.9 454.5L774.8 449.9M775.0 451.8L774.8 449.9L773.3 451.1M791.0 454.5L793.9 449.2M793.9 451.5L793.9 449.2L791.9 450.4M336.7 472.7L334.9 492.6M331.7 485.7L334.9 492.6L339.3 486.4M354.8 472.7L353.6 489.7M350.7 483.8L353.6 489.7L357.2 484.3M373.0 472.7L373.9 487.7M370.8 482.9L373.9 487.7L376.5 482.6M391.2 472.7L394.6 485.2M391.1 481.8L394.6 485.2L395.8 480.5M409.4 472.7L414.7 484.6M410.7 481.7L414.7 484.6L415.2 479.6M427.5 472.7L433.3 484.3M429.2 481.6L433.3 484.3L433.6 479.4M445.7 472.7L453.1 482.1M448.9 480.4L453.1 482.1L452.5 477.6M463.9 472.7L473.0 480.5M468.5 479.7L473.0 480.5L471.5 476.2M482.1 472.7L489.5 477.8M486.1 477.5L489.5 477.8L488.0 474.7M500.2 472.7L508.1 477.0M504.7 477.1L508.1 477.0L506.3 474.1M518.4 472.7L523.2 474.1M521.4 474.6L523.2 474.1L521.9 472.7M536.6 472.7L543.6 468.9M542.0 471.5L543.6 468.9L540.6 468.8M554.8 472.7L563.4 465.8M561.8 469.7L563.4 465.8L559.2 466.5M572.9 472.7L580.8 466.6M579.4 470.1L580.8 466.6L577.1 467.1M591.1 472.7L600.8 465.7M599.0 469.9L600.8 465.7L596.3 466.1M609.3 472.7L624.0 462.4M621.1 468.6L624.0 462.4L617.2 463.0M627.5 472.7L643.6 460.9M640.5 467.9L643.6 460.9L636.1 461.7M645.6 472.7L661.7 460.8M658.7 467.8L661.7 460.8L654.2 461.7M663.8 472.7L680.5 461.7M677.1 468.5L680.5 461.7L672.9 462.1M682.0 472.7L699.3 462.7M695.5 469.3L699.3 462.7L691.7 462.7M700.1 472.7L717.6 463.0M713.7 469.5L717.6 463.0L710.0 462.9M718.3 472.7L725.7 484.6M721.0 482.1L725.7 484.6L725.5 479.3M736.5 472.7L735.1 474.1M735.3 473.4L735.1 474.1L735.8 473.9M754.7 472.7L753.3 474.1M753.5 473.4L753.3 474.1L754.0 473.9M772.9 472.7L772.9 470.7M773.2 471.4L772.9 470.7L772.5 471.4M791.0 472.7L794.0 467.5M794.0 469.8L794.0 467.5L792.1 468.6M318.5 490.9L317.1 510.8M313.8 504.0L317.1 510.8L321.4 504.5M336.7 490.9L335.1 510.8M331.8 504.0L335.1 510.8L339.4 504.6M354.8 490.9L354.3 508.9M351.1 502.8L354.3 508.9L357.9 503.0M373.0 490.9L373.2 506.9M370.1 501.6L373.2 506.9L376.2 501.6M391.2 490.9L392.8 503.8M389.8 499.8L392.8 503.8L394.7 499.2M409.4 490.9L414.8 502.7M410.7 499.8L414.8 502.7L415.2 497.8M427.5 490.9L432.6 501.8M428.9 499.1L432.6 501.8L433.0 497.2M445.7 490.9L453.1 500.3M448.9 498.6L453.1 500.3L452.4 495.8M463.9 490.9L472.3 497.9M468.2 497.2L472.3 497.9L470.9 494.0M482.1 490.9L489.5 495.9M486.1 495.7L489.5 495.9L488.0 492.9M500.2 490.9L508.9 493.4M505.6 494.2L508.9 493.4L506.5 490.9M518.4 490.9L527.4 491.8M524.2 493.2L527.4 491.8L524.6 489.8M536.6 490.9L543.9 485.7M542.5 488.8L543.9 485.7L540.5 486.0M554.8 490.9L563.9 483.2M562.4 487.4L563.9 483.2L559.5 484.0M572.9 490.9L583.8 482.0M581.9 487.0L583.8 482.0L578.5 482.9M591.1 490.9L601.4 483.0M599.5 487.6L601.4 483.0L596.5 483.6M609.3 490.9L625.4 479.0M622.3 486.0L625.4 479.0L617.8 479.9M627.5 490.9L643.2 478.5M640.4 485.6L643.2 478.5L635.7 479.6M645.6 490.9L662.8 478.8M659.5 486.1L662.8 478.8L654.9 479.5M663.8 490.9L680.2 477.8M677.3 485.2L680.2 477.8L672.3 479.0M682.0 490.9L698.4 477.8M695.5 485.3L698.4 477.8L690.5 479.0M700.1 490.9L715.7 481.9M712.3 487.8L715.7 481.9L708.9 481.9M718.3 490.9L732.3 490.9M727.7 493.5L732.3 490.9L727.7 488.2M736.5 490.9L735.2 492.4M735.3 491.7L735.2 492.4L735.9 492.1M754.7 490.9L751.1 494.4M751.6 492.6L751.1 494.4L753.0 493.9M772.9 490.9L772.9 485.9M773.8 487.5L772.9 485.9L771.9 487.5M791.0 490.9L791.9 488.0M792.1 489.1L791.9 488.0L791.0 488.8M300.3 509.1L299.8 524.0M297.1 519.0L299.8 524.0L302.8 519.2M318.5 509.1L317.9 528.0M314.5 521.7L317.9 528.0L321.7 521.9M336.7 509.1L336.3 528.0M332.8 521.7L336.3 528.0L340.0 521.9M354.8 509.1L354.9 529.0M351.1 522.5L354.9 529.0L358.7 522.5M373.0 509.1L373.0 526.0M369.8 520.5L373.0 526.0L376.2 520.5M391.2 509.1L391.7 525.0M388.5 519.9L391.7 525.0L394.6 519.7M409.4 509.1L414.4 521.0M410.4 518.0L414.4 521.0L415.0 516.1M427.5 509.1L432.9 519.8M429.1 517.3L432.9 519.8L433.2 515.2M445.7 509.1L453.5 518.2M449.2 516.7L453.5 518.2L452.7 513.7M463.9 509.1L472.6 515.8M468.4 515.2L472.6 515.8L471.0 511.9M482.1 509.1L492.4 512.7M488.3 513.4L492.4 512.7L489.7 509.5M500.2 509.1L508.9 511.4M505.6 512.3L508.9 511.4L506.5 509.0M518.4 509.1L528.3 510.1M524.9 511.6L528.3 510.1L525.3 507.9M536.6 509.1L546.1 506.1M543.5 508.9L546.1 506.1L542.4 505.3M554.8 509.1L565.2 501.3M563.2 505.8L565.2 501.3L560.3 501.9M572.9 509.1L585.0 500.2M582.7 505.4L585.0 500.2L579.4 500.8M591.1 509.1L601.4 501.1M599.5 505.6L601.4 501.1L596.5 501.7M609.3 509.1L625.7 497.6M622.4 504.5L625.7 497.6L618.1 498.2M627.5 509.1L641.6 494.9M639.6 502.3L641.6 494.9L634.3 496.9M645.6 509.1L656.7 491.2M656.4 499.2L656.7 491.2L649.7 495.0M663.8 509.1L681.8 496.4M678.3 504.0L681.8 496.4L673.5 497.2M682.0 509.1L697.5 498.2M694.5 504.7L697.5 498.2L690.3 498.8M700.1 509.1L698.0 506.9M699.1 507.2L698.0 506.9L698.3 508.0M718.3 509.1L714.8 512.6M715.3 510.8L714.8 512.6L716.6 512.1M736.5 509.1L730.8 514.7M731.6 511.8L730.8 514.7L733.8 513.9M754.7 509.1L748.7 509.1M750.6 507.9L748.7 509.1L750.6 510.2M772.9 509.1L769.2 504.3M771.3 505.2L769.2 504.3L769.5 506.6M791.0 509.1L794.5 503.0M794.5 505.6L794.5 503.0L792.2 504.3M282.1 527.2L281.6 541.2M279.1 536.5L281.6 541.2L284.5 536.7M300.3 527.2L299.8 541.2M297.3 536.5L299.8 541.2L302.6 536.7M318.5 527.2L317.9 545.2M314.7 539.2L317.9 545.2L321.5 539.4M336.7 527.2L336.7 545.2M333.3 539.3L336.7 545.2L340.1 539.3M354.8 527.2L355.1 543.2M352.0 538.0L355.1 543.2L358.1 537.9M373.0 527.2L373.2 540.2M370.7 536.0L373.2 540.2L375.6 535.9M391.2 527.2L392.5 539.2M389.8 535.5L392.5 539.2L394.3 535.0M409.4 527.2L414.1 537.2M410.6 534.8L414.1 537.2L414.4 533.0M427.5 527.2L433.2 536.6M429.6 534.6L433.2 536.6L433.1 532.5M445.7 527.2L454.0 534.4M449.9 533.6L454.0 534.4L452.7 530.5M463.9 527.2L473.2 531.0M469.4 531.5L473.2 531.0L470.8 528.0M482.1 527.2L493.7 530.1M489.3 531.4L493.7 530.1L490.4 526.9M500.2 527.2L509.2 528.2M506.0 529.6L509.2 528.2L506.4 526.2M518.4 527.2L528.4 527.2M525.1 529.1L528.4 527.2L525.1 525.3M536.6 527.2L548.4 524.9M544.9 527.9L548.4 524.9L544.0 523.5M554.8 527.2L565.9 520.6M563.5 524.9L565.9 520.6L561.0 520.6M572.9 527.2L585.2 518.6M582.8 523.8L585.2 518.6L579.5 519.1M591.1 527.2L603.9 516.0M601.8 522.2L603.9 516.0L597.6 517.3M609.3 527.2L622.0 514.5M620.2 521.1L622.0 514.5L615.4 516.3M627.5 527.2L642.0 515.0M639.5 521.8L642.0 515.0L634.9 516.3M645.6 527.2L645.6 508.2M649.2 514.5L645.6 508.2L642.0 514.5M663.8 527.2L655.8 527.2M658.4 525.7L655.8 527.2L658.4 528.7M682.0 527.2L664.0 527.2M669.9 523.8L664.0 527.2L669.9 530.6M700.1 527.2L690.1 527.2M693.4 525.3L690.1 527.2L693.4 529.1M718.3 527.2L712.3 527.2M714.3 526.1L712.3 527.2L714.3 528.4M736.5 527.2L730.1 520.9M733.4 521.7L730.1 520.9L731.0 524.2M754.7 527.2L746.7 527.2M749.3 525.7L746.7 527.2L749.3 528.7M772.9 527.2L766.3 524.8M768.9 524.4L766.3 524.8L768.0 526.9M791.0 527.2L795.0 520.3M795.0 523.3L795.0 520.3L792.4 521.8M264.0 545.4L263.3 563.4M260.1 557.3L263.3 563.4L266.9 557.6M282.1 545.4L281.4 565.4M277.8 558.7L281.4 565.4L285.4 558.9M300.3 545.4L299.8 560.4M297.1 555.4L299.8 560.4L302.8 555.6M318.5 545.4L318.0 562.4M314.9 556.7L318.0 562.4L321.4 556.9M336.7 545.4L336.8 561.4M333.7 556.2L336.8 561.4L339.8 556.1M354.8 545.4L355.4 561.4M352.2 556.2L355.4 561.4L358.3 556.0M373.0 545.4L373.8 558.4M371.1 554.3L373.8 558.4L376.0 554.0M391.2 545.4L392.0 556.4M389.6 552.9L392.0 556.4L393.8 552.6M409.4 545.4L413.6 554.5M410.5 552.3L413.6 554.5L413.9 550.7M427.5 545.4L432.5 554.1M429.2 552.2L432.5 554.1L432.5 550.3M445.7 545.4L453.4 551.8M449.6 551.2L453.4 551.8L452.1 548.2M463.9 545.4L474.2 549.2M470.1 549.9L474.2 549.2L471.5 546.0M482.1 545.4L492.8 547.8M488.8 549.0L492.8 547.8L489.7 544.9M500.2 545.4L512.2 546.4M508.0 548.4L512.2 546.4L508.4 543.8M518.4 545.4L531.3 544.2M527.3 547.1L531.3 544.2L526.9 542.2M536.6 545.4L548.8 541.0M545.6 544.7L548.8 541.0L543.9 540.1M554.8 545.4L566.6 540.1M563.7 544.1L566.6 540.1L561.7 539.6M572.9 545.4L585.3 536.9M582.8 542.1L585.3 536.9L579.6 537.4M591.1 545.4L601.0 535.5M599.6 540.6L601.0 535.5L595.8 536.9M609.3 545.4L619.2 535.5M617.8 540.6L619.2 535.5L614.0 536.9M627.5 545.4L627.5 531.4M630.1 536.0L627.5 531.4L624.8 536.0M645.6 545.4L637.8 537.6M641.9 538.7L637.8 537.6L638.9 541.7M663.8 545.4L655.8 545.4M658.4 543.9L655.8 545.4L658.4 546.9M682.0 545.4L668.0 545.4M672.6 542.7L668.0 545.4L672.6 548.1M700.1 545.4L684.1 545.4M689.4 542.4L684.1 545.4L689.4 548.4M718.3 545.4L706.3 545.4M710.3 543.1L706.3 545.4L710.3 547.7M736.5 545.4L730.1 539.0M733.4 539.9L730.1 539.0L731.0 542.3M754.7 545.4L749.7 540.5M752.3 541.1L749.7 540.5L750.4 543.0M772.9 545.4L769.8 539.1M772.0 540.6L769.8 539.1L769.6 541.8M791.0 545.4L794.5 539.3M794.5 542.0L794.5 539.3L792.2 540.7M245.8 563.6L244.9 585.6M241.0 578.1L244.9 585.6L249.3 578.5M264.0 563.6L262.9 592.6M257.8 582.8L262.9 592.6L268.8 583.2M282.1 563.6L281.0 592.6M275.9 582.8L281.0 592.6L286.9 583.2M300.3 563.6L299.5 583.6M295.9 576.8L299.5 583.6L303.5 577.1M318.5 563.6L318.1 580.6M315.0 574.9L318.1 580.6L321.5 575.0M336.7 563.6L336.3 580.6M333.2 574.9L336.3 580.6L339.7 575.0M354.8 563.6L354.6 574.6M352.6 570.9L354.6 574.6L356.8 571.0M373.0 563.6L373.4 575.6M371.0 571.7L373.4 575.6L375.6 571.5M391.2 563.6L391.6 575.6M389.2 571.7L391.6 575.6L393.7 571.5M409.4 563.6L411.2 574.4M408.5 571.2L411.2 574.4L412.7 570.5M427.5 563.6L433.2 573.0M429.5 571.0L433.2 573.0L433.1 568.8M445.7 563.6L454.3 570.4M450.2 569.8L454.3 570.4L452.8 566.5M463.9 563.6L474.2 567.4M470.1 568.1L474.2 567.4L471.5 564.2M482.1 563.6L492.8 565.8M488.9 567.1L492.8 565.8L489.7 563.0M500.2 563.6L512.2 564.3M508.1 566.4L512.2 564.3L508.4 561.8M518.4 563.6L531.2 561.6M527.4 564.7L531.2 561.6L526.6 559.8M536.6 563.6L548.7 558.8M545.6 562.6L548.7 558.8L543.8 558.1M554.8 563.6L565.6 558.5M563.0 562.2L565.6 558.5L561.1 558.1M572.9 563.6L582.5 558.2M580.4 561.8L582.5 558.2L578.3 558.1M591.1 563.6L597.8 556.2M597.0 559.9L597.8 556.2L594.2 557.3M609.3 563.6L614.9 557.9M614.1 560.9L614.9 557.9L612.0 558.7M627.5 563.6L627.8 559.6M628.5 561.0L627.8 559.6L627.0 560.8M645.6 563.6L640.7 568.5M641.4 566.0L640.7 568.5L643.2 567.8M663.8 563.6L654.3 569.1M656.4 565.5L654.3 569.1L658.5 569.1M682.0 563.6L671.0 563.6M674.6 561.5L671.0 563.6L674.6 565.7M700.1 563.6L692.4 555.8M696.4 556.9L692.4 555.8L693.5 559.8M718.3 563.6L713.4 558.6M715.9 559.3L713.4 558.6L714.1 561.2M736.5 563.6L735.6 557.6M737.0 559.4L735.6 557.6L734.8 559.8M754.7 563.6L758.9 559.3M758.3 561.5L758.9 559.3L756.7 559.9M772.9 563.6L776.0 557.3M776.2 560.0L776.0 557.3L773.8 558.8M791.0 563.6L795.0 557.8M794.8 560.4L795.0 557.8L792.6 558.9M209.4 581.8L206.1 600.5M203.7 593.7L206.1 600.5L210.8 594.9M227.6 581.8L224.4 600.5M221.9 593.7L224.4 600.5L229.0 594.9M245.8 581.8L243.2 606.6M239.3 597.9L243.2 606.6L248.8 598.9M264.0 581.8L262.5 610.7M257.5 600.9L262.5 610.7L268.5 601.5M282.1 581.8L280.2 606.7M276.1 598.1L280.2 606.7L285.6 598.8M300.3 581.8L298.8 601.7M295.5 594.9L298.8 601.7L303.1 595.4M318.5 581.8L317.9 597.7M315.1 592.4L317.9 597.7L321.1 592.6M336.7 581.8L336.2 595.7M333.7 591.1L336.2 595.7L339.0 591.2M354.8 581.8L354.4 592.7M352.5 589.1L354.4 592.7L356.7 589.2M373.0 581.8L373.1 593.7M370.8 589.8L373.1 593.7L375.3 589.8M391.2 581.8L393.0 593.6M390.1 590.1L393.0 593.6L394.6 589.4M409.4 581.8L414.7 591.4M411.1 589.2L414.7 591.4L414.8 587.2M427.5 581.8L434.2 590.5M430.3 588.9L434.2 590.5L433.6 586.4M445.7 581.8L455.9 586.0M451.7 586.5L455.9 586.0L453.3 582.6M463.9 581.8L474.7 584.0M470.7 585.3L474.7 584.0L471.5 581.2M482.1 581.8L492.9 583.4M489.0 584.9L492.9 583.4L489.7 580.8M500.2 581.8L512.1 580.2M508.5 583.0L512.1 580.2L507.9 578.4M518.4 581.8L530.0 578.7M526.8 581.9L530.0 578.7L525.6 577.5M536.6 581.8L548.7 577.2M545.6 581.0L548.7 577.2L543.9 576.4M554.8 581.8L564.6 576.8M562.3 580.3L564.6 576.8L560.4 576.6M572.9 581.8L582.2 575.9M580.3 579.6L582.2 575.9L578.1 576.1M591.1 581.8L597.1 573.8M596.7 577.5L597.1 573.8L593.6 575.2M609.3 581.8L613.3 574.8M613.3 577.9L613.3 574.8L610.6 576.3M627.5 581.8L628.1 577.8M628.7 579.2L628.1 577.8L627.2 579.0M645.6 581.8L639.0 583.9M640.7 582.0L639.0 583.9L641.6 584.5M663.8 581.8L660.3 587.8M660.3 585.2L660.3 587.8L662.6 586.5M682.0 581.8L671.1 583.6M674.4 580.9L671.1 583.6L675.0 585.0M700.1 581.8L707.1 577.8M705.6 580.4L707.1 577.8L704.0 577.8M718.3 581.8L720.9 575.2M721.3 577.9L720.9 575.2L718.8 576.9M736.5 581.8L744.0 579.0M742.1 581.3L744.0 579.0L741.0 578.5M754.7 581.8L760.1 577.3M759.2 579.8L760.1 577.3L757.5 577.8M772.9 581.8L776.8 577.2M776.4 579.5L776.8 577.2L774.6 578.0M791.0 581.8L796.0 576.8M795.3 579.4L796.0 576.8L793.4 577.5M136.7 599.9L132.5 618.5M130.4 611.6L132.5 618.5L137.4 613.2M154.9 599.9L150.1 618.3M148.2 611.3L150.1 618.3L155.2 613.2M173.1 599.9L167.4 621.2M165.2 613.1L167.4 621.2L173.3 615.3M191.2 599.9L186.0 621.3M183.6 613.2L186.0 621.3L191.8 615.3M209.4 599.9L205.0 624.5M201.8 615.6L205.0 624.5L211.1 617.3M227.6 599.9L223.3 624.5M220.0 615.6L223.3 624.5L229.4 617.3M245.8 599.9L241.7 624.6M238.3 615.7L241.7 624.6L247.7 617.2M264.0 599.9L261.7 624.8M257.7 616.2L261.7 624.8L267.2 617.1M282.1 599.9L280.2 621.8M276.7 614.3L280.2 621.8L285.0 615.0M300.3 599.9L298.7 618.9M295.6 612.3L298.7 618.9L302.8 612.9M318.5 599.9L317.6 616.9M314.7 611.2L317.6 616.9L321.1 611.5M336.7 599.9L336.3 613.9M333.7 609.2L336.3 613.9L339.1 609.4M354.8 599.9L354.6 610.9M352.6 607.3L354.6 610.9L356.7 607.4M373.0 599.9L374.2 610.9M371.7 607.5L374.2 610.9L375.9 607.0M391.2 599.9L397.5 610.1M393.5 608.0L397.5 610.1L397.4 605.6M409.4 599.9L415.7 608.9M411.9 607.2L415.7 608.9L415.3 604.8M427.5 599.9L434.2 608.7M430.3 607.1L434.2 608.7L433.7 604.5M445.7 599.9L455.4 602.3M451.8 603.4L455.4 602.3L452.7 599.7M463.9 599.9L474.7 601.8M470.8 603.3L474.7 601.8L471.5 599.1M482.1 599.9L491.9 601.5M488.4 602.8L491.9 601.5L489.0 599.1M500.2 599.9L511.0 597.5M507.9 600.4L511.0 597.5L507.0 596.3M518.4 599.9L529.0 597.1M526.1 600.0L529.0 597.1L525.0 596.0M536.6 599.9L547.1 596.7M544.2 599.8L547.1 596.7L543.0 595.8M554.8 599.9L563.3 594.7M561.5 598.1L563.3 594.7L559.5 594.8M572.9 599.9L581.6 594.9M579.7 598.2L581.6 594.9L577.8 594.9M591.1 599.9L598.8 593.6M597.5 597.1L598.8 593.6L595.1 594.2M609.3 599.9L612.6 592.6M612.9 595.7L612.6 592.6L610.1 594.4M627.5 599.9L628.0 596.0M628.6 597.4L628.0 596.0L627.1 597.2M645.6 599.9L643.6 593.2M645.5 595.0L643.6 593.2L643.0 595.8M663.8 599.9L660.1 605.9M660.2 603.2L660.1 605.9L662.5 604.6M682.0 599.9L688.8 595.8M687.3 598.4L688.8 595.8L685.8 595.8M700.1 599.9L707.3 594.5M706.0 597.6L707.3 594.5L703.9 594.9M718.3 599.9L724.1 594.4M723.3 597.3L724.1 594.4L721.2 595.1M736.5 599.9L743.5 596.0M741.9 598.6L743.5 596.0L740.4 596.0M754.7 599.9L760.1 595.5M759.1 598.0L760.1 595.5L757.4 595.9M772.9 599.9L777.8 594.9M777.1 597.5L777.8 594.9L775.2 595.7M791.0 599.9L795.9 594.9M795.2 597.5L795.9 594.9L793.3 595.6M27.7 618.1L20.0 646.1M17.2 635.4L20.0 646.1L27.9 638.3M100.4 618.1L95.2 646.6M91.5 636.3L95.2 646.6L102.3 638.2M118.6 618.1L113.4 646.6M109.7 636.3L113.4 646.6L120.6 638.2M136.7 618.1L131.9 642.6M128.8 633.6L131.9 642.6L138.1 635.5M154.9 618.1L148.5 642.3M146.0 633.1L148.5 642.3L155.2 635.5M173.1 618.1L166.6 642.2M164.1 633.1L166.6 642.2L173.3 635.5M191.2 618.1L184.8 642.3M182.3 633.1L184.8 642.3L191.5 635.5M209.4 618.1L204.4 642.6M201.4 633.6L204.4 642.6L210.7 635.5M227.6 618.1L223.2 642.7M220.0 633.8L223.2 642.7L229.3 635.4M245.8 618.1L242.3 639.8M239.3 632.0L242.3 639.8L247.6 633.3M264.0 618.1L262.0 638.0M258.9 631.1L262.0 638.0L266.5 631.8M282.1 618.1L280.3 639.0M276.9 631.8L280.3 639.0L284.9 632.5M300.3 618.1L298.8 636.0M295.9 629.9L298.8 636.0L302.7 630.4M318.5 618.1L317.7 634.1M314.9 628.7L317.7 634.1L321.0 629.0M336.7 618.1L336.2 631.1M333.9 626.7L336.2 631.1L338.8 626.9M354.8 618.1L354.7 629.1M352.7 625.5L354.7 629.1L356.8 625.5M373.0 618.1L375.4 628.8M372.6 625.8L375.4 628.8L376.6 624.8M391.2 618.1L397.4 628.3M393.4 626.2L397.4 628.3L397.3 623.8M409.4 618.1L415.6 627.1M411.8 625.4L415.6 627.1L415.3 623.0M427.5 618.1L433.9 625.8M430.3 624.5L433.9 625.8L433.2 622.1M445.7 618.1L455.2 621.1M451.5 621.9L455.2 621.1L452.7 618.3M463.9 618.1L473.7 620.0M470.1 621.2L473.7 620.0L470.8 617.5M482.1 618.1L491.9 619.6M488.4 621.0L491.9 619.6L489.0 617.2M500.2 618.1L510.2 616.9M507.1 619.2L510.2 616.9L506.7 615.4M518.4 618.1L528.2 616.3M525.3 618.8L528.2 616.3L524.7 615.0M536.6 618.1L546.1 615.2M543.5 618.0L546.1 615.2L542.4 614.3M554.8 618.1L561.9 612.6M560.6 615.8L561.9 612.6L558.5 613.1M572.9 618.1L580.6 611.7M579.3 615.2L580.6 611.7L576.8 612.3M591.1 618.1L598.5 611.4M597.3 615.0L598.5 611.4L594.8 612.2M609.3 618.1L610.4 610.2M611.5 613.0L610.4 610.2L608.5 612.6M627.5 618.1L627.5 614.1M628.2 615.4L627.5 614.1L626.7 615.4M645.6 618.1L646.2 610.1M647.5 612.8L646.2 610.1L644.5 612.6M663.8 618.1L673.7 611.3M671.7 615.4L673.7 611.3L669.2 611.7M682.0 618.1L688.9 614.1M687.4 616.7L688.9 614.1L685.9 614.1M700.1 618.1L707.7 613.3M706.2 616.3L707.7 613.3L704.3 613.4M718.3 618.1L724.9 611.9M723.9 615.2L724.9 611.9L721.5 612.7M736.5 618.1L742.6 612.9M741.6 615.8L742.6 612.9L739.6 613.5M754.7 618.1L760.8 613.0M759.8 615.8L760.8 613.0L757.8 613.5M772.9 618.1L778.9 612.9M777.9 615.7L778.9 612.9L775.9 613.4M791.0 618.1L796.8 612.6M796.0 615.5L796.8 612.6L793.9 613.3M9.5 636.3L3.0 660.4M0.5 651.2L3.0 660.4L9.7 653.7M27.7 636.3L21.2 660.4M18.7 651.2L21.2 660.4L27.9 653.7M100.4 636.3L96.0 660.9M92.7 651.9L96.0 660.9L102.1 653.6M118.6 636.3L114.7 657.9M111.9 650.1L114.7 657.9L120.1 651.5M136.7 636.3L132.9 656.9M130.3 649.4L132.9 656.9L138.1 650.9M154.9 636.3L149.4 657.6M147.2 649.5L149.4 657.6L155.3 651.6M173.1 636.3L166.4 660.4M164.0 651.2L166.4 660.4L173.2 653.7M191.2 636.3L183.9 660.2M181.8 650.9L183.9 660.2L190.8 653.7M209.4 636.3L202.6 660.3M200.3 651.1L202.6 660.3L209.5 653.7M227.6 636.3L224.0 653.9M221.8 647.4L224.0 653.9L228.6 648.8M245.8 636.3L243.5 652.1M241.2 646.5L243.5 652.1L247.2 647.3M264.0 636.3L262.9 652.2M260.2 646.8L262.9 652.2L266.3 647.2M282.1 636.3L281.4 652.3M278.6 646.9L281.4 652.3L284.7 647.1M300.3 636.3L299.2 650.2M296.9 645.4L299.2 650.2L302.2 645.8M318.5 636.3L317.7 650.3M315.3 645.5L317.7 650.3L320.6 645.8M336.7 636.3L336.2 650.3M333.7 645.6L336.2 650.3L339.0 645.8M354.8 636.3L354.2 650.3M351.8 645.5L354.2 650.3L357.1 645.8M373.0 636.3L373.8 647.2M371.4 643.8L373.8 647.2L375.6 643.5M391.2 636.3L395.3 643.1M392.7 641.7L395.3 643.1L395.3 640.1M409.4 636.3L413.9 642.8M411.2 641.5L413.9 642.8L413.7 639.8M427.5 636.3L431.6 641.9M429.2 640.9L431.6 641.9L431.4 639.3M445.7 636.3L451.5 637.8M449.3 638.4L451.5 637.8L449.9 636.2M463.9 636.3L471.8 637.7M468.9 638.7L471.8 637.7L469.4 635.7M482.1 636.3L491.8 638.4M488.2 639.5L491.8 638.4L489.0 635.8M500.2 636.3L510.2 635.8M507.0 637.8L510.2 635.8L506.8 634.0M518.4 636.3L528.4 635.4M525.2 637.6L528.4 635.4L524.9 633.8M536.6 636.3L544.4 634.7M542.1 636.7L544.4 634.7L541.5 633.7M554.8 636.3L559.4 632.5M558.6 634.6L559.4 632.5L557.2 632.9M572.9 636.3L578.3 631.8M577.4 634.3L578.3 631.8L575.7 632.2M591.1 636.3L595.7 631.0M595.2 633.6L595.7 631.0L593.2 631.9M609.3 636.3L610.1 628.3M611.3 631.1L610.1 628.3L608.3 630.8M627.5 636.3L627.7 631.3M628.6 633.0L627.7 631.3L626.7 632.9M645.6 636.3L649.3 629.2M649.4 632.2L649.3 629.2L646.7 630.8M663.8 636.3L670.2 631.5M669.0 634.3L670.2 631.5L667.2 631.9M682.0 636.3L686.2 633.6M685.3 635.3L686.2 633.6L684.3 633.7M700.1 636.3L705.1 632.9M704.1 634.9L705.1 632.9L702.8 633.0M718.3 636.3L725.5 630.8M724.2 633.9L725.5 630.8L722.1 631.2M736.5 636.3L742.9 631.5M741.7 634.3L742.9 631.5L739.9 631.9M754.7 636.3L764.0 628.7M762.3 632.9L764.0 628.7L759.5 629.4M772.9 636.3L782.3 628.8M780.6 633.1L782.3 628.8L777.8 629.5M791.0 636.3L800.8 629.3M798.9 633.4L800.8 629.3L796.2 629.7M9.5 654.5L3.8 675.7M1.6 667.6L3.8 675.7L9.7 669.8M27.7 654.5L22.0 675.7M19.8 667.6L22.0 675.7L27.9 669.8M100.4 654.5L96.3 675.1M93.7 667.5L96.3 675.1L101.6 669.0M118.6 654.5L114.7 675.1M112.1 667.6L114.7 675.1L119.9 669.0M136.7 654.5L132.5 675.0M130.0 667.5L132.5 675.0L137.8 669.1M154.9 654.5L149.4 674.7M147.3 667.0L149.4 674.7L155.0 669.1M173.1 654.5L166.7 674.5M165.0 666.7L166.7 674.5L172.6 669.1M191.2 654.5L184.5 675.4M182.7 667.2L184.5 675.4L190.7 669.8M209.4 654.5L203.5 674.6M201.6 666.9L203.5 674.6L209.3 669.1M227.6 654.5L224.3 672.1M222.0 665.7L224.3 672.1L228.8 666.9M245.8 654.5L243.2 670.2M241.1 664.6L243.2 670.2L247.1 665.5M264.0 654.5L263.2 670.4M260.4 665.0L263.2 670.4L266.5 665.3M282.1 654.5L281.6 668.4M279.1 663.7L281.6 668.4L284.5 663.9M300.3 654.5L298.9 668.4M296.7 663.5L298.9 668.4L302.0 664.1M318.5 654.5L314.7 667.9M313.4 662.8L314.7 667.9L318.5 664.2M336.7 654.5L335.5 665.4M333.8 661.6L335.5 665.4L337.9 662.0M354.8 654.5L352.4 665.2M351.2 661.2L352.4 665.2L355.3 662.1M373.0 654.5L370.1 661.9M369.7 658.9L370.1 661.9L372.5 660.0M391.2 654.5L391.7 662.4M390.0 659.9L391.7 662.4L393.0 659.7M409.4 654.5L411.7 662.1M409.5 660.0L411.7 662.1L412.4 659.1M427.5 654.5L430.4 661.9M428.0 660.0L430.4 661.9L430.9 658.9M445.7 654.5L451.7 658.1M449.0 658.0L451.7 658.1L450.4 655.8M463.9 654.5L470.3 657.3M467.6 657.6L470.3 657.3L468.7 655.1M482.1 654.5L484.1 661.1M482.1 659.3L484.1 661.1L484.7 658.6M500.2 654.5L508.8 659.6M505.0 659.5L508.8 659.6L507.0 656.3M518.4 654.5L525.2 652.8M523.3 654.7L525.2 652.8L522.7 652.1M536.6 654.5L541.2 649.2M540.7 651.8L541.2 649.2L538.7 650.1M554.8 654.5L557.5 651.5M557.1 653.0L557.5 651.5L556.0 652.0M572.9 654.5L575.6 651.5M575.3 653.0L575.6 651.5L574.2 652.0M591.1 654.5L593.2 646.7M594.0 649.7L593.2 646.7L591.1 648.9M609.3 654.5L609.3 646.5M610.8 649.1L609.3 646.5L607.8 649.1M627.5 654.5L627.9 649.5M628.7 651.2L627.9 649.5L626.8 651.0M645.6 654.5L649.5 651.3M648.8 653.0L649.5 651.3L647.6 651.6M663.8 654.5L670.4 649.9M669.1 652.6L670.4 649.9L667.3 650.1M682.0 654.5L688.5 649.8M687.2 652.6L688.5 649.8L685.5 650.1M700.1 654.5L706.6 649.7M705.4 652.5L706.6 649.7L703.5 650.0M718.3 654.5L728.1 647.5M726.2 651.6L728.1 647.5L723.6 647.9M736.5 654.5L746.3 647.6M744.4 651.7L746.3 647.6L741.8 648.0M754.7 654.5L764.4 647.5M762.6 651.6L764.4 647.5L759.9 647.9M772.9 654.5L785.1 645.8M782.7 650.9L785.1 645.8L779.4 646.3M791.0 654.5L803.3 645.8M800.9 651.0L803.3 645.8L797.6 646.3M9.5 672.6L2.6 696.7M0.3 687.4L2.6 696.7L9.5 690.1M27.7 672.6L21.1 696.7M18.7 687.6L21.1 696.7L27.8 690.1M100.4 672.6L92.9 700.7M90.1 690.0L92.9 700.7L100.7 692.8M118.6 672.6L111.1 700.6M108.2 690.0L111.1 700.6L118.9 692.8M136.7 672.6L130.2 696.7M127.7 687.6L130.2 696.7L136.9 690.1M154.9 672.6L147.6 696.5M145.5 687.3L147.6 696.5L154.5 690.1M173.1 672.6L165.4 696.4M163.4 687.1L165.4 696.4L172.5 690.0M191.2 672.6L183.7 696.5M181.6 687.2L183.7 696.5L190.7 690.0M209.4 672.6L205.1 693.2M202.6 685.6L205.1 693.2L210.4 687.2M227.6 672.6L224.3 691.3M221.8 684.6L224.3 691.3L228.9 685.8M245.8 672.6L243.0 688.4M240.9 682.7L243.0 688.4L246.9 683.7M264.0 672.6L262.4 688.6M259.9 683.0L262.4 688.6L266.0 683.6M282.1 672.6L281.2 686.6M278.9 681.8L281.2 686.6L284.2 682.2M300.3 672.6L296.4 686.1M295.1 680.9L296.4 686.1L300.2 682.4M318.5 672.6L314.7 683.0M314.0 678.8L314.7 683.0L317.9 680.3M336.7 672.6L333.1 683.0M332.3 678.9L333.1 683.0L336.2 680.3M354.8 672.6L351.7 680.0M351.3 677.0L351.7 680.0L354.1 678.2M373.0 672.6L369.6 679.9M369.4 676.8L369.6 679.9L372.1 678.1M391.2 672.6L390.0 678.5M389.2 676.3L390.0 678.5L391.5 676.8M409.4 672.6L409.4 680.6M407.8 678.0L409.4 680.6L410.9 678.0M427.5 672.6L427.8 680.6M426.2 678.0L427.8 680.6L429.2 677.9M445.7 672.6L448.1 680.3M445.9 678.2L448.1 680.3L448.8 677.3M463.9 672.6L464.5 680.6M462.8 678.1L464.5 680.6L465.8 677.9M482.1 672.6L482.1 680.6M480.5 678.0L482.1 680.6L483.6 678.0M500.2 672.6L501.1 680.6M499.3 678.1L501.1 680.6L502.3 677.8M518.4 672.6L520.8 669.4M520.6 670.9L520.8 669.4L519.4 670.0M536.6 672.6L538.6 669.2M538.6 670.7L538.6 669.2L537.3 669.9M554.8 672.6L555.8 670.9M555.8 671.7L555.8 670.9L555.1 671.3M572.9 672.6L574.5 669.0M574.7 670.5L574.5 669.0L573.3 669.9M591.1 672.6L592.5 668.9M592.7 670.4L592.5 668.9L591.3 669.8M609.3 672.6L610.9 664.8M611.9 667.7L610.9 664.8L608.9 667.1M627.5 672.6L629.8 666.0M630.3 668.6L629.8 666.0L627.8 667.8M645.6 672.6L650.9 668.0M650.0 670.5L650.9 668.0L648.3 668.5M663.8 672.6L670.3 668.0M669.0 670.7L670.3 668.0L667.3 668.3M682.0 672.6L688.5 668.0M687.2 670.8L688.5 668.0L685.5 668.3M700.1 672.6L709.4 666.6M707.5 670.3L709.4 666.6L705.2 666.8M718.3 672.6L728.2 665.8M726.2 669.9L728.2 665.8L723.7 666.2M736.5 672.6L748.8 664.0M746.4 669.2L748.8 664.0L743.1 664.5M754.7 672.6L767.0 664.1M764.6 669.3L767.0 664.1L761.3 664.6M772.9 672.6L785.3 664.3M782.8 669.4L785.3 664.3L779.6 664.6M791.0 672.6L803.3 664.1M800.9 669.2L803.3 664.1L797.7 664.5M9.5 690.8L-0.1 710.6M-0.7 702.3L-0.1 710.6L6.8 705.9M27.7 690.8L18.2 710.7M17.6 702.3L18.2 710.7L25.1 705.9M100.4 690.8L92.7 718.8M89.9 708.1L92.7 718.8L100.6 711.0M118.6 690.8L111.0 718.8M108.2 708.2L111.0 718.8L118.8 711.0M136.7 690.8L129.9 714.8M127.5 705.6L129.9 714.8L136.7 708.2M154.9 690.8L146.2 714.2M144.6 704.9L146.2 714.2L153.5 708.2M173.1 690.8L165.6 710.4M164.3 702.6L165.6 710.4L171.8 705.4M191.2 690.8L184.1 710.6M182.7 702.7L184.1 710.6L190.2 705.4M209.4 690.8L204.5 709.2M202.6 702.2L204.5 709.2L209.6 704.0M227.6 690.8L224.3 707.5M222.2 701.4L224.3 707.5L228.6 702.6M245.8 690.8L242.5 706.5M240.6 700.7L242.5 706.5L246.6 701.9M264.0 690.8L260.2 707.4M258.3 701.2L260.2 707.4L264.6 702.6M282.1 690.8L278.5 704.3M277.1 699.2L278.5 704.3L282.2 700.6M300.3 690.8L295.6 704.0M294.6 698.7L295.6 704.0L299.6 700.5M318.5 690.8L314.3 702.0M313.5 697.5L314.3 702.0L317.8 699.1M336.7 690.8L332.1 701.9M331.5 697.4L332.1 701.9L335.7 699.1M354.8 690.8L349.9 701.7M349.4 697.2L349.9 701.7L353.6 699.1M373.0 690.8L369.7 698.1M369.4 695.1L369.7 698.1L372.2 696.3M391.2 690.8L389.3 698.6M388.4 695.6L389.3 698.6L391.4 696.4M409.4 690.8L409.0 699.8M407.4 696.8L409.0 699.8L410.8 696.9M427.5 690.8L427.2 699.8M425.6 696.8L427.2 699.8L429.0 696.9M445.7 690.8L446.1 699.8M444.2 696.9L446.1 699.8L447.7 696.8M463.9 690.8L464.4 700.8M462.3 697.6L464.4 700.8L466.1 697.4M482.1 690.8L482.3 698.8M480.7 696.2L482.3 698.8L483.7 696.1M500.2 690.8L501.8 698.6M499.8 696.4L501.8 698.6L502.8 695.8M518.4 690.8L522.5 688.0M521.7 689.7L522.5 688.0L520.6 688.1M536.6 690.8L538.9 687.5M538.7 689.0L538.9 687.5L537.5 688.2M554.8 690.8L556.1 689.3M555.9 690.0L556.1 689.3L555.3 689.5M572.9 690.8L574.0 689.1M574.0 689.9L574.0 689.1L573.3 689.5M591.1 690.8L592.8 687.2M592.9 688.7L592.8 687.2L591.5 688.0M609.3 690.8L613.9 685.5M613.4 688.2L613.9 685.5L611.4 686.4M627.5 690.8L633.6 687.4M632.2 689.7L633.6 687.4L630.9 687.4M645.6 690.8L651.7 687.2M650.3 689.6L651.7 687.2L649.0 687.3M663.8 690.8L670.5 686.4M669.1 689.1L670.5 686.4L667.5 686.6M682.0 690.8L690.8 686.1M688.8 689.4L690.8 686.1L687.0 686.0M700.1 690.8L710.1 686.0M707.7 689.5L710.1 686.0L705.9 685.7M718.3 690.8L728.1 685.7M725.8 689.3L728.1 685.7L723.9 685.5M736.5 690.8L748.5 683.6M745.9 688.2L748.5 683.6L743.2 683.7M754.7 690.8L768.0 683.9M764.9 688.7L768.0 683.9L762.3 683.6M772.9 690.8L788.2 683.4M784.5 688.8L788.2 683.4L781.7 682.9M791.0 690.8L806.1 682.9M802.6 688.4L806.1 682.9L799.6 682.6M9.5 709.0L0.9 721.3M1.4 715.6L0.9 721.3L6.1 718.9M27.7 709.0L18.0 722.9M18.5 716.5L18.0 722.9L23.8 720.2M100.4 709.0L92.8 732.8M90.8 723.5L92.8 732.8L99.8 726.4M118.6 709.0L112.0 728.9M110.4 721.1L112.0 728.9L118.0 723.6M136.7 709.0L127.2 727.7M126.8 719.7L127.2 727.7L133.9 723.3M154.9 709.0L145.1 727.6M144.8 719.6L145.1 727.6L151.9 723.3M173.1 709.0L164.9 725.0M164.5 718.2L164.9 725.0L170.6 721.3M191.2 709.0L182.3 724.6M182.3 717.8L182.3 724.6L188.2 721.2M209.4 709.0L202.2 721.0M202.3 715.7L202.2 721.0L206.9 718.4M227.6 709.0L221.3 721.5M221.0 716.2L221.3 721.5L225.8 718.6M245.8 709.0L241.1 722.2M240.1 716.9L241.1 722.2L245.1 718.7M264.0 709.0L259.6 721.2M258.7 716.4L259.6 721.2L263.4 718.0M282.1 709.0L276.8 719.7M276.5 715.2L276.8 719.7L280.6 717.2M300.3 709.0L294.5 719.5M294.4 714.9L294.5 719.5L298.4 717.1M318.5 709.0L312.4 719.4M312.5 714.8L312.4 719.4L316.4 717.1M336.7 709.0L330.0 719.0M330.3 714.4L330.0 719.0L334.1 716.9M354.8 709.0L348.4 719.1M348.6 714.5L348.4 719.1L352.4 717.0M373.0 709.0L366.4 719.0M366.7 714.5L366.4 719.0L370.5 717.0M391.2 709.0L385.8 719.7M385.5 715.1L385.8 719.7L389.6 717.2M409.4 709.0L404.6 720.0M404.1 715.5L404.6 720.0L408.3 717.3M427.5 709.0L423.8 720.4M422.8 715.9L423.8 720.4L427.2 717.3M445.7 709.0L444.5 720.9M442.6 716.8L444.5 720.9L447.2 717.2M463.9 709.0L463.0 720.9M461.0 716.8L463.0 720.9L465.6 717.2M482.1 709.0L482.0 720.0M480.0 716.4L482.0 720.0L484.1 716.4M500.2 709.0L500.6 716.0M499.1 713.7L500.6 716.0L501.8 713.6M518.4 709.0L523.4 713.9M520.8 713.2L523.4 713.9L522.7 711.3M536.6 709.0L540.5 709.6M539.1 710.1L540.5 709.6L539.3 708.6M554.8 709.0L558.7 708.8M557.5 709.6L558.7 708.8L557.4 708.1M572.9 709.0L576.8 707.8M575.7 708.9L576.8 707.8L575.3 707.5M591.1 709.0L595.0 708.0M593.9 709.0L595.0 708.0L593.5 707.6M609.3 709.0L614.8 706.5M613.4 708.4L614.8 706.5L612.5 706.3M627.5 709.0L633.8 706.0M632.3 708.2L633.8 706.0L631.1 705.8M645.6 709.0L651.9 706.0M650.4 708.1L651.9 706.0L649.3 705.7M663.8 709.0L673.5 703.8M671.3 707.4L673.5 703.8L669.4 703.7M682.0 709.0L691.9 704.3M689.5 707.7L691.9 704.3L687.7 703.9M700.1 709.0L710.1 704.3M707.7 707.8L710.1 704.3L706.0 704.0M718.3 709.0L731.9 702.6M728.6 707.2L731.9 702.6L726.2 702.1M736.5 709.0L749.9 702.1M746.8 706.9L749.9 702.1L744.2 701.9M754.7 709.0L770.0 701.7M766.4 707.0L770.0 701.7L763.6 701.2M772.9 709.0L788.3 701.8M784.6 707.1L788.3 701.8L781.8 701.2M791.0 709.0L806.4 701.7M802.7 707.0L806.4 701.7L800.0 701.2M9.5 727.1L2.5 736.9M2.9 732.3L2.5 736.9L6.6 735.0M27.7 727.1L19.6 738.6M20.1 733.3L19.6 738.6L24.5 736.4M100.4 727.1L91.3 746.1M90.7 738.1L91.3 746.1L97.9 741.6M118.6 727.1L108.3 745.5M108.2 737.5L108.3 745.5L115.1 741.4M136.7 727.1L126.2 745.3M126.2 737.4L126.2 745.3L133.1 741.3M154.9 727.1L145.9 742.8M145.9 735.9L145.9 742.8L151.8 739.3M173.1 727.1L164.1 742.7M164.1 735.9L164.1 742.7L170.0 739.3M191.2 727.1L182.8 740.8M183.0 734.7L182.8 740.8L188.2 737.9M209.4 727.1L202.5 738.2M202.7 733.2L202.5 738.2L206.9 735.9M227.6 727.1L220.9 738.3M221.0 733.3L220.9 738.3L225.2 735.9M245.8 727.1L241.8 738.5M241.0 734.0L241.8 738.5L245.3 735.5M264.0 727.1L260.3 739.6M259.2 734.8L260.3 739.6L263.9 736.2M282.1 727.1L276.7 737.9M276.4 733.3L276.7 737.9L280.5 735.4M300.3 727.1L294.3 737.5M294.3 733.0L294.3 737.5L298.2 735.3M318.5 727.1L311.0 739.0M311.2 733.7L311.0 739.0L315.7 736.5M336.7 727.1L329.8 737.0M330.2 732.4L329.8 737.0L333.9 735.1M354.8 727.1L348.6 736.2M348.9 732.0L348.6 736.2L352.4 734.4M373.0 727.1L366.7 736.2M367.1 732.0L366.7 736.2L370.5 734.4M391.2 727.1L385.7 736.7M385.7 732.5L385.7 736.7L389.4 734.6M409.4 727.1L404.7 737.1M404.3 733.0L404.7 737.1L408.1 734.7M427.5 727.1L423.2 737.3M422.7 733.1L423.2 737.3L426.6 734.8M445.7 727.1L444.5 738.1M442.8 734.3L444.5 738.1L447.0 734.7M463.9 727.1L463.0 737.1M461.4 733.7L463.0 737.1L465.2 734.0M482.1 727.1L481.8 735.1M480.3 732.5L481.8 735.1L483.4 732.6M500.2 727.1L500.2 734.1M498.9 731.8L500.2 734.1L501.6 731.8M518.4 727.1L522.9 732.5M520.4 731.6L522.9 732.5L522.5 729.9M536.6 727.1L543.5 728.4M541.0 729.3L543.5 728.4L541.4 726.7M554.8 727.1L558.7 727.7M557.3 728.3L558.7 727.7L557.5 726.8M572.9 727.1L579.8 725.9M577.8 727.6L579.8 725.9L577.3 725.0M591.1 727.1L598.0 725.9M596.0 727.6L598.0 725.9L595.5 725.0M609.3 727.1L616.1 725.5M614.2 727.3L616.1 725.5L613.5 724.7M627.5 727.1L633.8 724.3M632.3 726.4L633.8 724.3L631.2 724.0M645.6 727.1L655.6 722.6M653.2 726.0L655.6 722.6L651.5 722.2M663.8 727.1L673.8 722.5M671.4 725.9L673.8 722.5L669.6 722.1M682.0 727.1L692.8 722.0M690.2 725.8L692.8 722.0L688.3 721.6M700.1 727.1L713.7 720.8M710.5 725.5L713.7 720.8L708.0 720.3M718.3 727.1L731.9 720.7M728.6 725.4L731.9 720.7L726.2 720.2M736.5 727.1L750.0 720.5M746.8 725.3L750.0 720.5L744.3 720.1M754.7 727.1L768.2 720.7M765.0 725.4L768.2 720.7L762.5 720.2M772.9 727.1L788.2 719.9M784.5 725.2L788.2 719.9L781.8 719.4M791.0 727.1L806.4 719.8M802.7 725.2L806.4 719.8L799.9 719.3M9.5 745.3L3.7 750.8M4.5 747.9L3.7 750.8L6.6 750.1M27.7 745.3L20.3 754.8M20.9 750.3L20.3 754.8L24.5 753.1M100.4 745.3L89.2 764.3M89.3 755.9L89.2 764.3L96.5 760.2M118.6 745.3L107.4 763.1M107.7 755.2L107.4 763.1L114.5 759.4M136.7 745.3L125.5 763.1M125.8 755.1L125.5 763.1L132.5 759.4M154.9 745.3L145.3 760.6M145.6 753.7L145.3 760.6L151.4 757.4M173.1 745.3L165.2 758.1M165.3 752.4L165.2 758.1L170.2 755.4M191.2 745.3L182.5 758.7M182.9 752.7L182.5 758.7L188.0 756.0M209.4 745.3L202.3 756.2M202.6 751.3L202.3 756.2L206.7 754.0M227.6 745.3L221.4 755.6M221.5 751.0L221.4 755.6L225.4 753.4M245.8 745.3L242.4 756.8M241.3 752.4L242.4 756.8L245.7 753.7M264.0 745.3L260.8 756.9M259.7 752.5L260.8 756.9L264.1 753.7M282.1 745.3L278.4 756.7M277.4 752.3L278.4 756.7L281.8 753.7M300.3 745.3L294.9 754.9M294.9 750.7L294.9 754.9L298.5 752.8M318.5 745.3L312.2 755.5M312.3 751.0L312.2 755.5L316.2 753.4M336.7 745.3L330.4 754.4M330.8 750.2L330.4 754.4L334.2 752.6M354.8 745.3L348.7 754.5M349.0 750.3L348.7 754.5L352.5 752.6M373.0 745.3L367.0 754.5M367.2 750.3L367.0 754.5L370.7 752.6M391.2 745.3L385.8 754.9M385.7 750.7L385.8 754.9L389.4 752.8M409.4 745.3L404.9 755.4M404.4 751.2L404.9 755.4L408.2 752.9M427.5 745.3L424.3 755.8M423.4 751.8L424.3 755.8L427.4 753.0M445.7 745.3L443.6 756.1M442.3 752.2L443.6 756.1L446.4 753.0M463.9 745.3L463.0 755.3M461.4 751.8L463.0 755.3L465.2 752.2M482.1 745.3L481.8 755.3M480.0 752.0L481.8 755.3L483.8 752.1M500.2 745.3L500.6 755.3M498.6 752.1L500.6 755.3L502.4 751.9M518.4 745.3L523.0 750.6M520.5 749.7L523.0 750.6L522.5 748.0M536.6 745.3L542.5 746.5M540.3 747.2L542.5 746.5L540.7 745.0M554.8 745.3L561.7 745.0M559.5 746.4L561.7 745.0L559.4 743.8M572.9 745.3L579.7 743.7M577.8 745.5L579.7 743.7L577.2 742.9M591.1 745.3L598.0 744.0M596.0 745.7L598.0 744.0L595.4 743.1M609.3 745.3L616.1 743.6M614.2 745.5L616.1 743.6L613.5 742.9M627.5 745.3L637.8 741.5M635.1 744.7L637.8 741.5L633.6 740.8M645.6 745.3L655.9 741.5M653.3 744.7L655.9 741.5L651.8 740.8M663.8 745.3L675.0 741.0M672.1 744.6L675.0 741.0L670.5 740.3M682.0 745.3L692.9 740.4M690.3 744.1L692.9 740.4L688.4 740.0M700.1 745.3L713.7 738.8M710.5 743.5L713.7 738.8L708.0 738.4M718.3 745.3L731.8 738.8M728.6 743.5L731.8 738.8L726.1 738.4M736.5 745.3L750.1 738.9M746.8 743.6L750.1 738.9L744.4 738.4M754.7 745.3L769.2 738.5M765.7 743.5L769.2 738.5L763.1 738.0M772.9 745.3L786.4 738.9M783.2 743.6L786.4 738.9L780.7 738.5M791.0 745.3L804.5 738.8M801.3 743.5L804.5 738.8L798.8 738.4M9.5 763.5L5.7 766.7M6.3 764.9L5.7 766.7L7.5 766.4M27.7 763.5L21.6 768.7M22.6 765.9L21.6 768.7L24.6 768.2M100.4 763.5L88.4 781.9M88.8 773.6L88.4 781.9L95.8 778.1M118.6 763.5L106.0 781.6M106.7 773.3L106.0 781.6L113.6 778.0M136.7 763.5L126.4 778.2M127.0 771.4L126.4 778.2L132.6 775.4M154.9 763.5L144.7 778.3M145.2 771.5L144.7 778.3L150.8 775.4M173.1 763.5L164.3 776.9M164.6 770.8L164.3 776.9L169.7 774.1M191.2 763.5L182.1 776.7M182.6 770.6L182.1 776.7L187.6 774.1M209.4 763.5L202.5 773.3M202.9 768.8L202.5 773.3L206.7 771.4M227.6 763.5L220.9 773.4M221.2 768.9L220.9 773.4L225.0 771.4M245.8 763.5L241.7 774.8M240.9 770.3L241.7 774.8L245.2 771.8M264.0 763.5L260.7 775.1M259.6 770.6L260.7 775.1L264.0 771.9M282.1 763.5L278.8 774.0M277.9 769.9L278.8 774.0L281.9 771.2M300.3 763.5L295.6 773.5M295.3 769.3L295.6 773.5L299.0 771.1M318.5 763.5L312.6 774.0M312.5 769.4L312.6 774.0L316.5 771.6M336.7 763.5L330.4 773.8M330.5 769.2L330.4 773.8L334.4 771.6M354.8 763.5L349.2 773.0M349.3 768.8L349.2 773.0L352.8 770.9M373.0 763.5L367.5 773.0M367.5 768.9L367.5 773.0L371.1 770.9M391.2 763.5L385.7 773.0M385.7 768.8L385.7 773.0L389.3 770.9M409.4 763.5L405.1 773.7M404.6 769.5L405.1 773.7L408.5 771.1M427.5 763.5L424.7 774.1M423.6 770.1L424.7 774.1L427.6 771.2M445.7 763.5L442.9 774.1M441.8 770.1L442.9 774.1L445.8 771.2M463.9 763.5L462.5 773.4M461.1 769.9L462.5 773.4L464.8 770.4M482.1 763.5L482.2 773.5M480.3 770.2L482.2 773.5L484.1 770.2M500.2 763.5L502.5 773.2M499.9 770.5L502.5 773.2L503.6 769.6M518.4 763.5L523.6 768.2M521.0 767.6L523.6 768.2L522.8 765.7M536.6 763.5L543.6 764.1M541.2 765.2L543.6 764.1L541.4 762.5M554.8 763.5L561.5 761.8M559.6 763.7L561.5 761.8L559.0 761.1M572.9 763.5L579.7 761.7M577.8 763.6L579.7 761.7L577.1 761.0M591.1 763.5L598.8 761.5M596.7 763.6L598.8 761.5L595.9 760.7M609.3 763.5L616.9 761.2M614.9 763.4L616.9 761.2L614.0 760.5M627.5 763.5L638.7 759.4M635.8 762.9L638.7 759.4L634.2 758.6M645.6 763.5L656.9 759.4M654.0 762.9L656.9 759.4L652.4 758.6M663.8 763.5L675.1 759.4M672.1 762.9L675.1 759.4L670.6 758.6M682.0 763.5L693.1 759.0M690.3 762.6L693.1 759.0L688.6 758.4M700.1 763.5L711.0 758.4M708.4 762.2L711.0 758.4L706.5 758.0M718.3 763.5L729.2 758.3M726.6 762.1L729.2 758.3L724.6 758.0M736.5 763.5L750.1 757.1M746.8 761.8L750.1 757.1L744.4 756.7M754.7 763.5L769.2 756.7M765.7 761.7L769.2 756.7L763.1 756.2M772.9 763.5L786.4 757.1M783.2 761.8L786.4 757.1L780.8 756.7M791.0 763.5L804.5 757.0M801.3 761.7L804.5 757.0L798.9 756.6"/>
<clipPath id="pc"><rect x="0" y="28" width="800" height="744"/></clipPath>
<g class="t" fill="rgb(150,135,115)" font-size="11" clip-path="url(#pc)">
<text transform="translate(22.5 765) rotate(-90)">61W</text>
<text transform="translate(94.5 765) rotate(-90)">60W</text>
<text transform="translate(167.5 765) rotate(-90)">59W</text>
<text transform="translate(240.5 765) rotate(-90)">58W</text>
<text transform="translate(312.5 765) rotate(-90)">57W</text>
<text transform="translate(385.5 765) rotate(-90)">56W</text>
<text transform="translate(458.5 765) rotate(-90)">55W</text>
<text transform="translate(530.5 765) rotate(-90)">54W</text>
<text transform="translate(603.5 765) rotate(-90)">53W</text>
<text transform="translate(676.5 765) rotate(-90)">52W</text>
<text transform="translate(749.5 765) rotate(-90)">51W</text>
<text x="771" y="32.0">31S</text>
<text x="771" y="105.0">32S</text>
<text x="771" y="177.0">33S</text>
<text x="771" y="250.0">34S</text>
<text x="771" y="323.0">35S</text>
<text x="771" y="396.0">36S</text>
<text x="771" y="468.0">37S</text>
<text x="771" y="541.0">38S</text>
<text x="771" y="614.0">39S</text>
<text x="771" y="686.0">40S</text>
<text x="771" y="759.0">41S</text>
</g>
<path fill="none" stroke="#808080" stroke-width="1" shape-rendering="crispEdges" d="M9.5 27V772M81.5 27V772M154.5 27V772M227.5 27V772M299.5 27V772M372.5 27V772M445.5 27V772M517.5 27V772M590.5 27V772M663.5 27V772M736.5 27V772M0 36.5H800M0 109.5H800M0 181.5H800M0 254.5H800M0 327.5H800M0 400.5H800M0 472.5H800M0 545.5H800M0 618.5H800M0 690.5H800M0 763.5H800"/>
<path fill="none" stroke="#000" stroke-width="1" shape-rendering="crispEdges" d="M0 27.5H800M0.5 27V772M10.5 28v18M10.5 772v-18M17.5 28v4M17.5 772v-4M24.5 28v4M24.5 772v-4M31.5 28v4M31.5 772v-4M39.5 28v4M39.5 772v-4M46.5 28v9M46.5 772v-9M53.5 28v4M53.5 772v-4M60.5 28v4M60.5 772v-4M68.5 28v4M68.5 772v-4M75.5 28v4M75.5 772v-4M82.5 28v18M82.5 772v-18M89.5 28v4M89.5 772v-4M97.5 28v4M97.5 772v-4M104.5 28v4M104.5 772v-4M111.5 28v4M111.5 772v-4M119.5 28v9M119.5 772v-9M126.5 28v4M126.5 772v-4M133.5 28v4M133.5 772v-4M140.5 28v4M140.5 772v-4M148.5 28v4M148.5 772v-4M155.5 28v18M155.5 772v-18M162.5 28v4M162.5 772v-4M169.5 28v4M169.5 772v-4M177.5 28v4M177.5 772v-4M184.5 28v4M184.5 772v-4M191.5 28v9M191.5 772v-9M198.5 28v4M198.5 772v-4M206.5 28v4M206.5 772v-4M213.5 28v4M213.5 772v-4M220.5 28v4M220.5 772v-4M228.5 28v18M228.5 772v-18M235.5 28v4M235.5 772v-4M242.5 28v4M242.5 772v-4M249.5 28v4M249.5 772v-4M257.5 28v4M257.5 772v-4M264.5 28v9M264.5 772v-9M271.5 28v4M271.5 772v-4M278.5 28v4M278.5 772v-4M286.5 28v4M286.5 772v-4M293.5 28v4M293.5 772v-4M300.5 28v18M300.5 772v-18M307.5 28v4M307.5 772v-4M315.5 28v4M315.5 772v-4M322.5 28v4M322.5 772v-4M329.5 28v4M329.5 772v-4M337.5 28v9M337.5 772v-9M344.5 28v4M344.5 772v-4M351.5 28v4M351.5 772v-4M358.5 28v4M358.5 772v-4M366.5 28v4M366.5 772v-4M373.5 28v18M373.5 772v-18M380.5 28v4M380.5 772v-4M387.5 28v4M387.5 772v-4M395.5 28v4M395.5 772v-4M402.5 28v4M402.5 772v-4M409.5 28v9M409.5 772v-9M417.5 28v4M417.5 772v-4M424.5 28v4M424.5 772v-4M431.5 28v4M431.5 772v-4M438.5 28v4M438.5 772v-4M446.5 28v18M446.5 772v-18M453.5 28v4M453.5 772v-4M460.5 28v4M460.5 772v-4M467.5 28v4M467.5 772v-4M475.5 28v4M475.5 772v-4M482.5 28v9M482.5 772v-9M489.5 28v4M489.5 772v-4M496.5 28v4M496.5 772v-4M504.5 28v4M504.5 772v-4M511.5 28v4M511.5 772v-4M518.5 28v18M518.5 772v-18M526.5 28v4M526.5 772v-4M533.5 28v4M533.5 772v-4M540.5 28v4M540.5 772v-4M547.5 28v4M547.5 772v-4M555.5 28v9M555.5 772v-9M562.5 28v4M562.5 772v-4M569.5 28v4M569.5 772v-4M576.5 28v4M576.5 772v-4M584.5 28v4M584.5 772v-4M591.5 28v18M591.5 772v-18M598.5 28v4M598.5 772v-4M605.5 28v4M605.5 772v-4M613.5 28v4M613.5 772v-4M620.5 28v4M620.5 772v-4M627.5 28v9M627.5 772v-9M635.5 28v4M635.5 772v-4M642.5 28v4M642.5 772v-4M649.5 28v4M649.5 772v-4M656.5 28v4M656.5 772v-4M664.5 28v18M664.5 772v-18M671.5 28v4M671.5 772v-4M678.5 28v4M678.5 772v-4M685.5 28v4M685.5 772v-4M693.5 28v4M693.5 772v-4M700.5 28v9M700.5 772v-9M707.5 28v4M707.5 772v-4M714.5 28v4M714.5 772v-4M722.5 28v4M722.5 772v-4M729.5 28v4M729.5 772v-4M736.5 28v18M736.5 772v-18M744.5 28v4M744.5 772v-4M751.5 28v4M751.5 772v-4M758.5 28v4M758.5 772v-4M765.5 28v4M765.5 772v-4M773.5 28v9M773.5 772v-9M780.5 28v4M780.5 772v-4M787.5 28v4M787.5 772v-4M794.5 28v4M794.5 772v-4M1 29.5h4M800 29.5h-4M1 36.5h18M800 36.5h-18M1 44.5h4M800 44.5h-4M1 51.5h4M800 51.5h-4M1 58.5h4M800 58.5h-4M1 66.5h4M800 66.5h-4M1 73.5h9M800 73.5h-9M1 80.5h4M800 80.5h-4M1 87.5h4M800 87.5h-4M1 95.5h4M800 95.5h-4M1 102.5h4M800 102.5h-4M1 109.5h18M800 109.5h-18M1 116.5h4M800 116.5h-4M1 124.5h4M800 124.5h-4M1 131.5h4M800 131.5h-4M1 138.5h4M800 138.5h-4M1 145.5h9M800 145.5h-9M1 153.5h4M800 153.5h-4M1 160.5h4M800 160.5h-4M1 167.5h4M800 167.5h-4M1 175.5h4M800 175.5h-4M1 182.5h18M800 182.5h-18M1 189.5h4M800 189.5h-4M1 196.5h4M800 196.5h-4M1 204.5h4M800 204.5h-4M1 211.5h4M800 211.5h-4M1 218.5h9M800 218.5h-9M1 225.5h4M800 225.5h-4M1 233.5h4M800 233.5h-4M1 240.5h4M800 240.5h-4M1 247.5h4M800 247.5h-4M1 254.5h18M800 254.5h-18M1 262.5h4M800 262.5h-4M1 269.5h4M800 269.5h-4M1 276.5h4M800 276.5h-4M1 284.5h4M800 284.5h-4M1 291.5h9M800 291.5h-9M1 298.5h4M800 298.5h-4M1 305.5h4M800 305.5h-4M1 313.5h4M800 313.5h-4M1 320.5h4M800 320.5h-4M1 327.5h18M800 327.5h-18M1 334.5h4M800 334.5h-4M1 342.5h4M800 342.5h-4M1 349.5h4M800 349.5h-4M1 356.5h4M800 356.5h-4M1 363.5h9M800 363.5h-9M1 371.5h4M800 371.5h-4M1 378.5h4M800 378.5h-4M1 385.5h4M800 385.5h-4M1 392.5h4M800 392.5h-4M1 400.5h18M800 400.5h-18M1 407.5h4M800 407.5h-4M1 414.5h4M800 414.5h-4M1 422.5h4M800 422.5h-4M1 429.5h4M800 429.5h-4M1 436.5h9M800 436.5h-9M1 443.5h4M800 443.5h-4M1 451.5h4M800 451.5h-4M1 458.5h4M800 458.5h-4M1 465.5h4M800 465.5h-4M1 472.5h18M800 472.5h-18M1 480.5h4M800 480.5h-4M1 487.5h4M800 487.5h-4M1 494.5h4M800 494.5h-4M1 501.5h4M800 501.5h-4M1 509.5h9M800 509.5h-9M1 516.5h4M800 516.5h-4M1 523.5h4M800 523.5h-4M1 531.5h4M800 531.5h-4M1 538.5h4M800 538.5h-4M1 545.5h18M800 545.5h-18M1 552.5h4M800 552.5h-4M1 560.5h4M800 560.5h-4M1 567.5h4M800 567.5h-4M1 574.5h4M800 574.5h-4M1 581.5h9M800 581.5h-9M1 589.5h4M800 589.5h-4M1 596.5h4M800 596.5h-4M1 603.5h4M800 603.5h-4M1 610.5h4M800 610.5h-4M1 618.5h18M800 618.5h-18M1 625.5h4M800 625.5h-4M1 632.5h4M800 632.5h-4M1 639.5h4M800 639.5h-4M1 647.5h4M800 647.5h-4M1 654.5h9M800 654.5h-9M1 661.5h4M800 661.5h-4M1 669.5h4M800 669.5h-4M1 676.5h4M800 676.5h-4M1 683.5h4M800 683.5h-4M1 690.5h18M800 690.5h-18M1 698.5h4M800 698.5h-4M1 705.5h4M800 705.5h-4M1 712.5h4M800 712.5h-4M1 719.5h4M800 719.5h-4M1 727.5h9M800 727.5h-9M1 734.5h4M800 734.5h-4M1 741.5h4M800 741.5h-4M1 748.5h4M800 748.5h-4M1 756.5h4M800 756.5h-4M1 763.5h18M800 763.5h-18M1 770.5h4M800 770.5h-4"/>
<defs><linearGradient id="cb" x1="0" y1="162" x2="0" y2="766" gradientUnits="userSpaceOnUse"><stop offset="0" stop-color="rgb(195,0,125)"/><stop offset="0.1573" stop-color="rgb(255,0,0)"/><stop offset="0.2947" stop-color="rgb(255,120,0)"/><stop offset="0.4603" stop-color="rgb(255,255,0)"/><stop offset="0.6010" stop-color="rgb(0,235,0)"/><stop offset="0.7368" stop-color="rgb(0,255,255)"/><stop offset="1" stop-color="rgb(0,0,255)"/></linearGradient></defs>
<rect x="32.5" y="160.5" width="48" height="608" fill="#fff" stroke="#000" stroke-width="1" shape-rendering="crispEdges"/>
<rect x="34" y="162" width="45" height="604" fill="url(#cb)" shape-rendering="crispEdges"/>
<g class="t" fill="#808080" font-weight="bold" font-size="25.7">
<text x="6.5" y="50" textLength="381.5" lengthAdjust="spacingAndGlyphs">modelo GEFS-WAVE (NCEP)</text>
<text x="6" y="72.5" textLength="492.5" lengthAdjust="spacingAndGlyphs">forecast date: 2025-04-12 12:00:00</text>
<text x="42" y="95.5" textLength="445" lengthAdjust="spacingAndGlyphs">valid date: 2025-04-18 12:00:00</text>
</g>
<g class="t" fill="#000" font-size="15">
<text x="34" y="150.5" font-size="17" textLength="43.5" lengthAdjust="spacingAndGlyphs">[m/s]</text>
<text x="86" y="165">30</text>
<text x="86" y="317">22</text>
<text x="86" y="469">15</text>
<text x="86" y="621">8</text>
<text x="86" y="773">0</text>
</g>
<path fill="none" stroke="#000" stroke-width="1" stroke-linejoin="round" d="M241.0 28.0L234.5 30.0L235.5 38.5L233.5 50.0L228.8 61.2L222.5 68.8L225.0 73.0L228.0 76.0L225.6 90.0L223.8 95.0L215.0 97.0L212.5 101.0L216.0 107.5L216.0 115.0L213.0 120.0L220.6 130.0L214.4 140.0L211.9 141.9L211.2 156.2L213.8 170.0L217.5 175.0L215.6 180.0L215.6 185.0L212.5 188.8L203.8 187.5L196.2 188.0L195.6 190.0L196.9 203.8L191.9 207.5L189.4 215.0L188.0 230.0L187.5 235.0L193.8 243.8L195.0 253.8L198.8 257.5L199.4 267.5L195.0 273.0L185.6 275.6L193.8 281.2L190.6 286.2L192.5 292.5L200.0 296.2L205.0 301.2L216.2 308.8L227.5 312.5L240.0 316.2L250.0 322.5L262.5 330.0L280.0 345.0L290.0 356.2L287.5 365.0L275.0 377.5L272.5 392.5L277.5 405.0L290.0 420.0L302.5 426.2L317.5 423.8L321.0 430.0L325.0 450.0L324.0 465.0L310.0 484.5L295.0 502.0L275.0 522.0L262.5 534.5L260.0 554.5L240.0 564.5L225.0 572.0L200.0 580.8L185.0 585.8L165.0 589.5L150.0 595.0L125.0 600.0L110.0 602.0L97.5 605.5L82.5 607.5L32.5 613.0L0.0 618.0M211.9 141.9L216.9 153.0L217.5 167.5L223.8 173.8L222.5 181.0L220.0 186.0L216.2 189.4L211.2 190.6L205.0 188.8L200.6 191.0L201.2 205.0L196.9 210.0L199.4 215.0L196.2 220.0L195.6 230.0L195.6 240.0L198.0 249.4L205.0 253.8L211.2 263.8L217.5 266.2L225.0 272.5L233.8 280.0L236.2 287.5L243.8 288.0L255.0 285.6L265.0 285.0L287.5 286.2L300.0 295.0L310.0 302.5L325.0 306.2L342.5 311.2L343.8 316.2L350.0 320.0L357.5 318.8L361.2 322.5L372.5 316.2L390.0 310.0L405.0 311.2L420.0 313.8L425.0 318.2L437.5 318.8L445.0 319.5L448.8 324.5L472.5 317.0L492.5 309.5L497.5 302.0L495.0 299.5L500.0 295.8L507.5 302.0L520.0 292.5L535.0 282.5L535.0 277.5L545.0 267.0L552.5 255.0L560.0 237.5L567.5 230.0L582.5 212.5L600.0 203.0L615.0 192.0L622.5 179.5L632.5 159.5L637.5 144.5L645.0 134.5L662.5 115.5L673.0 105.0L703.0 90.0L736.0 63.0L760.0 36.0L768.0 28.0M400.0 28.0L393.4 30.6L391.0 32.9L386.6 37.4L377.6 41.9L373.0 42.0M406.0 28.0L410.0 30.0L417.5 37.5L421.0 46.0L426.0 50.0L429.0 54.4L437.5 57.5L442.5 62.0L465.0 68.2L477.5 74.5L490.0 89.5L507.5 102.0L517.5 102.0L525.0 107.0L535.0 112.0L543.8 127.0L545.0 137.0L560.0 149.5L572.5 154.5L582.5 162.0L570.0 172.0L567.5 179.5L557.5 184.5L552.5 194.5L551.2 200.0L552.5 217.0L552.5 225.0L560.0 236.0M701.5 28.0L700.0 31.5L701.5 36.0L703.0 42.0L691.0 46.5L689.5 54.0L673.0 57.0L664.8 63.0L663.0 66.0L658.0 76.5L664.0 79.5L659.5 82.5L656.5 87.0L647.5 91.5L645.0 97.5L647.5 105.0L644.5 112.5L649.0 115.5L655.0 112.5L659.5 117.0L656.5 121.5M736.0 28.0L737.5 36.0L739.0 42.0L736.0 45.0L727.0 41.0L725.5 45.0L725.5 60.0L718.0 70.5L707.5 75.0L704.5 73.5L703.0 79.5L700.0 78.8L689.5 88.5L676.0 94.5L674.5 96.0L662.5 94.5L658.0 96.0L658.0 99.0L667.0 97.5"/>
</svg>
</body></html>
